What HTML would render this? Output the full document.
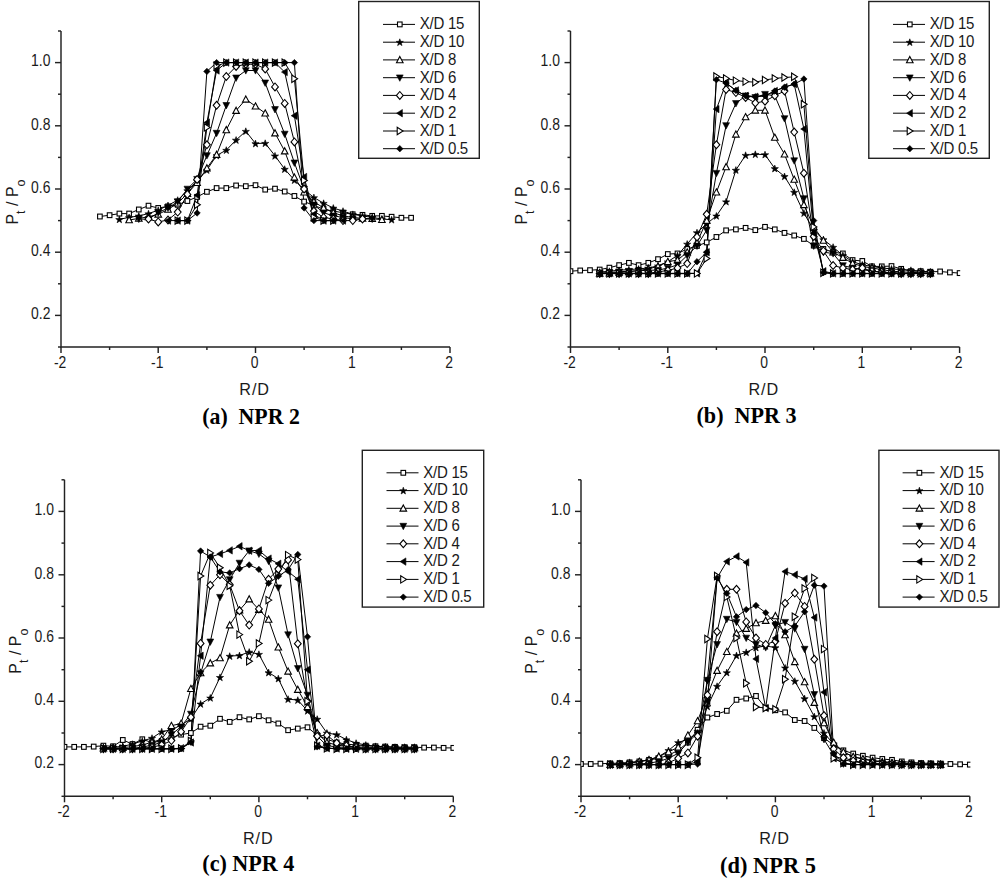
<!DOCTYPE html>
<html><head><meta charset="utf-8"><style>
html,body{margin:0;padding:0;background:#fff;overflow:hidden;}
svg{display:block;}
.ax{stroke:#222;stroke-width:1.45;fill:none;}
.lg{stroke:#222;stroke-width:1.4;fill:none;}
.ln{stroke:#000;stroke-width:1;fill:none;}
.o{fill:#fff;stroke:#000;stroke-width:1.1;}
.f{fill:#000;stroke:#000;stroke-width:0.6;}
.tl{font-family:"Liberation Sans",sans-serif;font-size:15.5px;fill:#1a1a1a;}
.lt{font-family:"Liberation Sans",sans-serif;font-size:16px;fill:#1a1a1a;letter-spacing:-0.3px;}
.sub{font-size:12.5px;}
.tk{font-family:"Liberation Sans",sans-serif;font-size:16px;fill:#1a1a1a;}
.rd{font-family:"Liberation Sans",sans-serif;font-size:16.2px;fill:#1a1a1a;letter-spacing:0.9px;}
.yt{font-family:"Liberation Sans",sans-serif;font-size:16px;fill:#1a1a1a;}
.cap{font-family:"Liberation Serif",serif;font-weight:bold;font-size:23px;fill:#000;white-space:pre;}
</style></head><body>
<svg width="1000" height="878" viewBox="0 0 1000 878">
<path class="ax" d="M61.0,31.0 V347.0 H450.0"/>
<path class="ax" d="M58.0,347.0 H61.0"/>
<path class="ax" d="M55.0,315.4 H61.0"/>
<text class="tk" transform="translate(50.4,319.2) scale(0.87,1)" text-anchor="end">0.2</text>
<path class="ax" d="M58.0,283.8 H61.0"/>
<path class="ax" d="M55.0,252.2 H61.0"/>
<text class="tk" transform="translate(50.4,256.0) scale(0.87,1)" text-anchor="end">0.4</text>
<path class="ax" d="M58.0,220.6 H61.0"/>
<path class="ax" d="M55.0,189.0 H61.0"/>
<text class="tk" transform="translate(50.4,192.8) scale(0.87,1)" text-anchor="end">0.6</text>
<path class="ax" d="M58.0,157.4 H61.0"/>
<path class="ax" d="M55.0,125.8 H61.0"/>
<text class="tk" transform="translate(50.4,129.6) scale(0.87,1)" text-anchor="end">0.8</text>
<path class="ax" d="M58.0,94.2 H61.0"/>
<path class="ax" d="M55.0,62.6 H61.0"/>
<text class="tk" transform="translate(50.4,66.4) scale(0.87,1)" text-anchor="end">1.0</text>
<path class="ax" d="M58.0,31.0 H61.0"/>
<path class="ax" d="M61.0,347.0 V353.0"/>
<text class="tk" transform="translate(60.1,368.2) scale(0.87,1)" text-anchor="middle">-2</text>
<path class="ax" d="M109.6,347.0 V350.0"/>
<path class="ax" d="M158.2,347.0 V353.0"/>
<text class="tk" transform="translate(157.3,368.2) scale(0.87,1)" text-anchor="middle">-1</text>
<path class="ax" d="M206.9,347.0 V350.0"/>
<path class="ax" d="M255.5,347.0 V353.0"/>
<text class="tk" transform="translate(254.6,368.2) scale(0.87,1)" text-anchor="middle">0</text>
<path class="ax" d="M304.1,347.0 V350.0"/>
<path class="ax" d="M352.8,347.0 V353.0"/>
<text class="tk" transform="translate(351.9,368.2) scale(0.87,1)" text-anchor="middle">1</text>
<path class="ax" d="M401.4,347.0 V350.0"/>
<path class="ax" d="M450.0,347.0 V353.0"/>
<text class="tk" transform="translate(449.1,368.2) scale(0.87,1)" text-anchor="middle">2</text>
<text class="rd" x="254.6" y="395.0" text-anchor="middle">R/D</text>
<text class="cap" transform="translate(202.2,424.0) scale(0.95,1)">(a)  NPR 2</text>
<path class="ax" d="M570.5,31.0 V347.0 H959.6"/>
<path class="ax" d="M567.5,347.0 H570.5"/>
<path class="ax" d="M564.5,315.4 H570.5"/>
<text class="tk" transform="translate(559.9,319.2) scale(0.87,1)" text-anchor="end">0.2</text>
<path class="ax" d="M567.5,283.8 H570.5"/>
<path class="ax" d="M564.5,252.2 H570.5"/>
<text class="tk" transform="translate(559.9,256.0) scale(0.87,1)" text-anchor="end">0.4</text>
<path class="ax" d="M567.5,220.6 H570.5"/>
<path class="ax" d="M564.5,189.0 H570.5"/>
<text class="tk" transform="translate(559.9,192.8) scale(0.87,1)" text-anchor="end">0.6</text>
<path class="ax" d="M567.5,157.4 H570.5"/>
<path class="ax" d="M564.5,125.8 H570.5"/>
<text class="tk" transform="translate(559.9,129.6) scale(0.87,1)" text-anchor="end">0.8</text>
<path class="ax" d="M567.5,94.2 H570.5"/>
<path class="ax" d="M564.5,62.6 H570.5"/>
<text class="tk" transform="translate(559.9,66.4) scale(0.87,1)" text-anchor="end">1.0</text>
<path class="ax" d="M567.5,31.0 H570.5"/>
<path class="ax" d="M570.5,347.0 V353.0"/>
<text class="tk" transform="translate(569.6,368.2) scale(0.87,1)" text-anchor="middle">-2</text>
<path class="ax" d="M619.1,347.0 V350.0"/>
<path class="ax" d="M667.8,347.0 V353.0"/>
<text class="tk" transform="translate(666.9,368.2) scale(0.87,1)" text-anchor="middle">-1</text>
<path class="ax" d="M716.4,347.0 V350.0"/>
<path class="ax" d="M765.0,347.0 V353.0"/>
<text class="tk" transform="translate(764.1,368.2) scale(0.87,1)" text-anchor="middle">0</text>
<path class="ax" d="M813.7,347.0 V350.0"/>
<path class="ax" d="M862.3,347.0 V353.0"/>
<text class="tk" transform="translate(861.4,368.2) scale(0.87,1)" text-anchor="middle">1</text>
<path class="ax" d="M910.9,347.0 V350.0"/>
<path class="ax" d="M959.6,347.0 V353.0"/>
<text class="tk" transform="translate(958.7,368.2) scale(0.87,1)" text-anchor="middle">2</text>
<text class="rd" x="763.8" y="395.0" text-anchor="middle">R/D</text>
<text class="cap" transform="translate(696.5,423.0) scale(0.962,1)">(b)  NPR 3</text>
<path class="ax" d="M64.5,479.8 V796.3 H453.3"/>
<path class="ax" d="M61.5,796.3 H64.5"/>
<path class="ax" d="M58.5,764.6 H64.5"/>
<text class="tk" transform="translate(53.9,768.4) scale(0.87,1)" text-anchor="end">0.2</text>
<path class="ax" d="M61.5,733.0 H64.5"/>
<path class="ax" d="M58.5,701.3 H64.5"/>
<text class="tk" transform="translate(53.9,705.1) scale(0.87,1)" text-anchor="end">0.4</text>
<path class="ax" d="M61.5,669.7 H64.5"/>
<path class="ax" d="M58.5,638.0 H64.5"/>
<text class="tk" transform="translate(53.9,641.8) scale(0.87,1)" text-anchor="end">0.6</text>
<path class="ax" d="M61.5,606.4 H64.5"/>
<path class="ax" d="M58.5,574.8 H64.5"/>
<text class="tk" transform="translate(53.9,578.5) scale(0.87,1)" text-anchor="end">0.8</text>
<path class="ax" d="M61.5,543.1 H64.5"/>
<path class="ax" d="M58.5,511.4 H64.5"/>
<text class="tk" transform="translate(53.9,515.2) scale(0.87,1)" text-anchor="end">1.0</text>
<path class="ax" d="M61.5,479.8 H64.5"/>
<path class="ax" d="M64.5,796.3 V802.3"/>
<text class="tk" transform="translate(63.6,816.7) scale(0.87,1)" text-anchor="middle">-2</text>
<path class="ax" d="M113.1,796.3 V799.3"/>
<path class="ax" d="M161.7,796.3 V802.3"/>
<text class="tk" transform="translate(160.8,816.7) scale(0.87,1)" text-anchor="middle">-1</text>
<path class="ax" d="M210.3,796.3 V799.3"/>
<path class="ax" d="M258.9,796.3 V802.3"/>
<text class="tk" transform="translate(258.0,816.7) scale(0.87,1)" text-anchor="middle">0</text>
<path class="ax" d="M307.5,796.3 V799.3"/>
<path class="ax" d="M356.1,796.3 V802.3"/>
<text class="tk" transform="translate(355.2,816.7) scale(0.87,1)" text-anchor="middle">1</text>
<path class="ax" d="M404.7,796.3 V799.3"/>
<path class="ax" d="M453.3,796.3 V802.3"/>
<text class="tk" transform="translate(452.4,816.7) scale(0.87,1)" text-anchor="middle">2</text>
<text class="rd" x="258.3" y="843.6" text-anchor="middle">R/D</text>
<text class="cap" transform="translate(202.3,871.3) scale(0.962,1)">(c) NPR 4</text>
<path class="ax" d="M581.0,479.8 V796.3 H969.8"/>
<path class="ax" d="M578.0,796.3 H581.0"/>
<path class="ax" d="M575.0,764.6 H581.0"/>
<text class="tk" transform="translate(570.4,768.4) scale(0.87,1)" text-anchor="end">0.2</text>
<path class="ax" d="M578.0,733.0 H581.0"/>
<path class="ax" d="M575.0,701.3 H581.0"/>
<text class="tk" transform="translate(570.4,705.1) scale(0.87,1)" text-anchor="end">0.4</text>
<path class="ax" d="M578.0,669.7 H581.0"/>
<path class="ax" d="M575.0,638.0 H581.0"/>
<text class="tk" transform="translate(570.4,641.8) scale(0.87,1)" text-anchor="end">0.6</text>
<path class="ax" d="M578.0,606.4 H581.0"/>
<path class="ax" d="M575.0,574.8 H581.0"/>
<text class="tk" transform="translate(570.4,578.5) scale(0.87,1)" text-anchor="end">0.8</text>
<path class="ax" d="M578.0,543.1 H581.0"/>
<path class="ax" d="M575.0,511.4 H581.0"/>
<text class="tk" transform="translate(570.4,515.2) scale(0.87,1)" text-anchor="end">1.0</text>
<path class="ax" d="M578.0,479.8 H581.0"/>
<path class="ax" d="M581.0,796.3 V802.3"/>
<text class="tk" transform="translate(580.1,816.7) scale(0.87,1)" text-anchor="middle">-2</text>
<path class="ax" d="M629.6,796.3 V799.3"/>
<path class="ax" d="M678.2,796.3 V802.3"/>
<text class="tk" transform="translate(677.3,816.7) scale(0.87,1)" text-anchor="middle">-1</text>
<path class="ax" d="M726.8,796.3 V799.3"/>
<path class="ax" d="M775.4,796.3 V802.3"/>
<text class="tk" transform="translate(774.5,816.7) scale(0.87,1)" text-anchor="middle">0</text>
<path class="ax" d="M824.0,796.3 V799.3"/>
<path class="ax" d="M872.6,796.3 V802.3"/>
<text class="tk" transform="translate(871.7,816.7) scale(0.87,1)" text-anchor="middle">1</text>
<path class="ax" d="M921.2,796.3 V799.3"/>
<path class="ax" d="M969.8,796.3 V802.3"/>
<text class="tk" transform="translate(968.9,816.7) scale(0.87,1)" text-anchor="middle">2</text>
<text class="rd" x="774.5" y="843.6" text-anchor="middle">R/D</text>
<text class="cap" transform="translate(720.0,872.8) scale(0.976,1)">(d) NPR 5</text>
<text class="yt" transform="translate(17.6,224.6) rotate(-90)">P<tspan class="sub" dy="7">t</tspan><tspan dy="-7"> / P</tspan><tspan class="sub" dy="7">o</tspan></text>
<text class="yt" transform="translate(527.2,224.6) rotate(-90)">P<tspan class="sub" dy="7">t</tspan><tspan dy="-7"> / P</tspan><tspan class="sub" dy="7">o</tspan></text>
<text class="yt" transform="translate(21.0,673.7) rotate(-90)">P<tspan class="sub" dy="7">t</tspan><tspan dy="-7"> / P</tspan><tspan class="sub" dy="7">o</tspan></text>
<text class="yt" transform="translate(537.4,673.8) rotate(-90)">P<tspan class="sub" dy="7">t</tspan><tspan dy="-7"> / P</tspan><tspan class="sub" dy="7">o</tspan></text>
<rect class="lg" x="358.7" y="1.5" width="120.6" height="156.8"/>
<path class="ln" d="M383.0,24.4 H415.0"/>
<rect x="397.5" y="22.0" width="4.6" height="4.8" class="o"/>
<text class="lt" transform="translate(419.8,29.2) scale(0.94,1)">X/D 15</text>
<path class="ln" d="M383.0,42.2 H415.0"/>
<polygon points="399.8,38.8 400.7,41.3 403.4,41.4 401.2,43.0 402.0,45.6 399.8,44.1 397.6,45.6 398.4,43.0 396.2,41.4 398.9,41.3" class="f"/>
<text class="lt" transform="translate(419.8,47.0) scale(0.94,1)">X/D 10</text>
<path class="ln" d="M383.0,59.9 H415.0"/>
<polygon points="399.8,56.5 403.1,62.7 396.5,62.7" class="o"/>
<text class="lt" transform="translate(419.8,64.7) scale(0.94,1)">X/D 8</text>
<path class="ln" d="M383.0,77.7 H415.0"/>
<polygon points="396.4,74.9 403.2,74.9 399.8,81.3" class="f"/>
<text class="lt" transform="translate(419.8,82.5) scale(0.94,1)">X/D 6</text>
<path class="ln" d="M383.0,95.4 H415.0"/>
<polygon points="399.8,91.5 403.2,95.4 399.8,99.3 396.4,95.4" class="o"/>
<text class="lt" transform="translate(419.8,100.2) scale(0.94,1)">X/D 4</text>
<path class="ln" d="M383.0,113.2 H415.0"/>
<polygon points="396.6,113.2 402.4,109.5 402.4,116.9" class="f"/>
<text class="lt" transform="translate(419.8,118.0) scale(0.94,1)">X/D 2</text>
<path class="ln" d="M383.0,131.0 H415.0"/>
<polygon points="403.0,131.0 397.2,127.3 397.2,134.7" class="o"/>
<text class="lt" transform="translate(419.8,135.8) scale(0.94,1)">X/D 1</text>
<path class="ln" d="M383.0,148.7 H415.0"/>
<polygon points="399.8,145.5 403.0,148.7 399.8,151.9 396.6,148.7" class="f"/>
<text class="lt" transform="translate(419.8,153.5) scale(0.94,1)">X/D 0.5</text>
<rect class="lg" x="868.8" y="1.5" width="120.5" height="156.8"/>
<path class="ln" d="M893.0,24.4 H925.0"/>
<rect x="907.5" y="22.0" width="4.6" height="4.8" class="o"/>
<text class="lt" transform="translate(929.8,29.2) scale(0.94,1)">X/D 15</text>
<path class="ln" d="M893.0,42.2 H925.0"/>
<polygon points="909.8,38.8 910.7,41.3 913.4,41.4 911.2,43.0 912.0,45.6 909.8,44.1 907.6,45.6 908.4,43.0 906.2,41.4 908.9,41.3" class="f"/>
<text class="lt" transform="translate(929.8,47.0) scale(0.94,1)">X/D 10</text>
<path class="ln" d="M893.0,59.9 H925.0"/>
<polygon points="909.8,56.5 913.1,62.7 906.5,62.7" class="o"/>
<text class="lt" transform="translate(929.8,64.7) scale(0.94,1)">X/D 8</text>
<path class="ln" d="M893.0,77.7 H925.0"/>
<polygon points="906.4,74.9 913.2,74.9 909.8,81.3" class="f"/>
<text class="lt" transform="translate(929.8,82.5) scale(0.94,1)">X/D 6</text>
<path class="ln" d="M893.0,95.4 H925.0"/>
<polygon points="909.8,91.5 913.2,95.4 909.8,99.3 906.4,95.4" class="o"/>
<text class="lt" transform="translate(929.8,100.2) scale(0.94,1)">X/D 4</text>
<path class="ln" d="M893.0,113.2 H925.0"/>
<polygon points="906.6,113.2 912.4,109.5 912.4,116.9" class="f"/>
<text class="lt" transform="translate(929.8,118.0) scale(0.94,1)">X/D 2</text>
<path class="ln" d="M893.0,131.0 H925.0"/>
<polygon points="913.0,131.0 907.2,127.3 907.2,134.7" class="o"/>
<text class="lt" transform="translate(929.8,135.8) scale(0.94,1)">X/D 1</text>
<path class="ln" d="M893.0,148.7 H925.0"/>
<polygon points="909.8,145.5 913.0,148.7 909.8,151.9 906.6,148.7" class="f"/>
<text class="lt" transform="translate(929.8,153.5) scale(0.94,1)">X/D 0.5</text>
<rect class="lg" x="362.3" y="450.3" width="121.4" height="156.8"/>
<path class="ln" d="M386.5,472.8 H418.5"/>
<rect x="401.0" y="470.4" width="4.6" height="4.8" class="o"/>
<text class="lt" transform="translate(423.3,477.6) scale(0.94,1)">X/D 15</text>
<path class="ln" d="M386.5,490.6 H418.5"/>
<polygon points="403.3,487.2 404.2,489.7 406.9,489.8 404.7,491.4 405.5,494.0 403.3,492.5 401.1,494.0 401.9,491.4 399.7,489.8 402.4,489.7" class="f"/>
<text class="lt" transform="translate(423.3,495.4) scale(0.94,1)">X/D 10</text>
<path class="ln" d="M386.5,508.3 H418.5"/>
<polygon points="403.3,504.9 406.6,511.1 400.0,511.1" class="o"/>
<text class="lt" transform="translate(423.3,513.1) scale(0.94,1)">X/D 8</text>
<path class="ln" d="M386.5,526.1 H418.5"/>
<polygon points="399.9,523.3 406.7,523.3 403.3,529.7" class="f"/>
<text class="lt" transform="translate(423.3,530.9) scale(0.94,1)">X/D 6</text>
<path class="ln" d="M386.5,543.8 H418.5"/>
<polygon points="403.3,539.9 406.7,543.8 403.3,547.7 399.9,543.8" class="o"/>
<text class="lt" transform="translate(423.3,548.6) scale(0.94,1)">X/D 4</text>
<path class="ln" d="M386.5,561.6 H418.5"/>
<polygon points="400.1,561.6 405.9,557.9 405.9,565.3" class="f"/>
<text class="lt" transform="translate(423.3,566.4) scale(0.94,1)">X/D 2</text>
<path class="ln" d="M386.5,579.4 H418.5"/>
<polygon points="406.5,579.4 400.7,575.7 400.7,583.1" class="o"/>
<text class="lt" transform="translate(423.3,584.2) scale(0.94,1)">X/D 1</text>
<path class="ln" d="M386.5,597.1 H418.5"/>
<polygon points="403.3,593.9 406.5,597.1 403.3,600.3 400.1,597.1" class="f"/>
<text class="lt" transform="translate(423.3,601.9) scale(0.94,1)">X/D 0.5</text>
<rect class="lg" x="878.9" y="450.3" width="120.1" height="156.8"/>
<path class="ln" d="M902.6,472.8 H934.6"/>
<rect x="917.1" y="470.4" width="4.6" height="4.8" class="o"/>
<text class="lt" transform="translate(939.4,477.6) scale(0.94,1)">X/D 15</text>
<path class="ln" d="M902.6,490.6 H934.6"/>
<polygon points="919.4,487.2 920.3,489.7 923.0,489.8 920.8,491.4 921.6,494.0 919.4,492.5 917.2,494.0 918.0,491.4 915.8,489.8 918.5,489.7" class="f"/>
<text class="lt" transform="translate(939.4,495.4) scale(0.94,1)">X/D 10</text>
<path class="ln" d="M902.6,508.3 H934.6"/>
<polygon points="919.4,504.9 922.7,511.1 916.1,511.1" class="o"/>
<text class="lt" transform="translate(939.4,513.1) scale(0.94,1)">X/D 8</text>
<path class="ln" d="M902.6,526.1 H934.6"/>
<polygon points="916.0,523.3 922.8,523.3 919.4,529.7" class="f"/>
<text class="lt" transform="translate(939.4,530.9) scale(0.94,1)">X/D 6</text>
<path class="ln" d="M902.6,543.8 H934.6"/>
<polygon points="919.4,539.9 922.8,543.8 919.4,547.7 916.0,543.8" class="o"/>
<text class="lt" transform="translate(939.4,548.6) scale(0.94,1)">X/D 4</text>
<path class="ln" d="M902.6,561.6 H934.6"/>
<polygon points="916.2,561.6 922.0,557.9 922.0,565.3" class="f"/>
<text class="lt" transform="translate(939.4,566.4) scale(0.94,1)">X/D 2</text>
<path class="ln" d="M902.6,579.4 H934.6"/>
<polygon points="922.6,579.4 916.8,575.7 916.8,583.1" class="o"/>
<text class="lt" transform="translate(939.4,584.2) scale(0.94,1)">X/D 1</text>
<path class="ln" d="M902.6,597.1 H934.6"/>
<polygon points="919.4,593.9 922.6,597.1 919.4,600.3 916.2,597.1" class="f"/>
<text class="lt" transform="translate(939.4,601.9) scale(0.94,1)">X/D 0.5</text>
<clipPath id="cpa"><rect x="61.3" y="21.0" width="389.3" height="326.0"/></clipPath>
<g clip-path="url(#cpa)">
<polyline class="ln" points="99.9,216.5 109.6,215.2 119.4,213.6 129.1,213.6 138.8,209.5 148.5,205.7 158.2,208.0 168.0,206.4 177.7,204.8 187.4,201.0 197.1,196.9 206.9,191.8 216.6,188.1 226.3,188.1 236.1,185.5 245.8,186.2 255.5,185.2 265.2,189.6 275.0,188.7 284.7,191.5 294.4,196.0 304.1,201.6 313.9,205.4 323.6,209.2 333.3,211.1 343.0,212.7 352.8,214.3 362.5,214.9 372.2,215.9 381.9,215.9 391.6,216.8 401.4,217.8 411.1,217.8"/>
<polyline class="ln" points="119.4,219.3 129.1,217.4 138.8,215.9 148.5,213.6 158.2,210.2 168.0,205.4 177.7,200.1 187.4,190.6 197.1,181.1 206.9,170.0 216.6,155.5 226.3,150.1 236.1,140.0 245.8,131.2 255.5,143.5 265.2,143.2 275.0,155.8 284.7,169.1 294.4,180.2 304.1,189.6 313.9,197.5 323.6,203.2 333.3,208.0 343.0,211.1 352.8,214.3 362.5,215.9 372.2,217.4 381.9,219.0 391.6,219.7"/>
<polyline class="ln" points="129.1,220.0 138.8,218.4 148.5,216.8 158.2,214.3 168.0,209.5 177.7,203.2 187.4,193.7 197.1,182.7 206.9,168.1 216.6,154.6 226.3,129.9 236.1,110.6 245.8,99.3 255.5,106.2 265.2,113.2 275.0,133.1 284.7,151.1 294.4,177.3 304.1,192.2 313.9,201.6 323.6,208.0 333.3,212.7 343.0,215.9 352.8,217.4 362.5,218.4 372.2,218.7 381.9,219.7"/>
<polyline class="ln" points="138.8,219.0 148.5,219.3 158.2,212.7 168.0,208.0 177.7,201.6 187.4,189.0 197.1,179.2 206.9,155.5 216.6,133.1 226.3,105.3 236.1,77.8 245.8,70.5 255.5,70.5 265.2,82.8 275.0,109.4 284.7,134.0 294.4,162.8 304.1,189.0 313.9,204.8 323.6,212.7 333.3,215.9 343.0,217.4 352.8,219.0 362.5,219.0 372.2,219.0"/>
<polyline class="ln" points="148.5,219.0 158.2,221.9 168.0,220.0 177.7,212.1 187.4,194.4 197.1,179.5 206.9,144.8 216.6,105.3 226.3,76.5 236.1,66.4 245.8,64.2 255.5,64.2 265.2,68.9 275.0,86.9 284.7,103.4 294.4,141.9 304.1,189.0 313.9,211.1 323.6,217.4 333.3,219.0 343.0,220.6 352.8,220.6 362.5,219.0"/>
<polyline class="ln" points="168.0,220.6 177.7,220.6 187.4,220.6 197.1,195.3 206.9,122.6 216.6,70.5 226.3,62.6 236.1,62.6 245.8,62.6 255.5,62.6 265.2,62.6 275.0,62.6 284.7,72.1 294.4,115.7 304.1,177.0 313.9,214.3 323.6,220.6 333.3,220.6 343.0,220.6"/>
<polyline class="ln" points="177.7,220.6 187.4,220.6 197.1,204.8 206.9,127.4 216.6,65.8 226.3,62.6 236.1,62.6 245.8,62.6 255.5,62.6 265.2,62.6 275.0,62.6 284.7,62.6 294.4,78.7 304.1,180.5 313.9,217.4 323.6,220.6 333.3,220.6"/>
<polyline class="ln" points="177.7,220.6 187.4,220.6 197.1,213.0 206.9,71.4 216.6,62.6 226.3,62.6 236.1,62.6 245.8,62.6 255.5,62.6 265.2,62.6 275.0,62.6 284.7,62.6 294.4,62.6 304.1,208.0 313.9,220.6 323.6,220.6 333.3,220.6"/>
<rect x="97.6" y="214.1" width="4.6" height="4.8" class="o"/>
<rect x="107.3" y="212.8" width="4.6" height="4.8" class="o"/>
<rect x="117.1" y="211.2" width="4.6" height="4.8" class="o"/>
<rect x="126.8" y="211.2" width="4.6" height="4.8" class="o"/>
<rect x="136.5" y="207.1" width="4.6" height="4.8" class="o"/>
<rect x="146.2" y="203.3" width="4.6" height="4.8" class="o"/>
<rect x="155.9" y="205.6" width="4.6" height="4.8" class="o"/>
<rect x="165.7" y="204.0" width="4.6" height="4.8" class="o"/>
<rect x="175.4" y="202.4" width="4.6" height="4.8" class="o"/>
<rect x="185.1" y="198.6" width="4.6" height="4.8" class="o"/>
<rect x="194.8" y="194.5" width="4.6" height="4.8" class="o"/>
<rect x="204.6" y="189.4" width="4.6" height="4.8" class="o"/>
<rect x="214.3" y="185.7" width="4.6" height="4.8" class="o"/>
<rect x="224.0" y="185.7" width="4.6" height="4.8" class="o"/>
<rect x="233.8" y="183.1" width="4.6" height="4.8" class="o"/>
<rect x="243.5" y="183.8" width="4.6" height="4.8" class="o"/>
<rect x="253.2" y="182.8" width="4.6" height="4.8" class="o"/>
<rect x="262.9" y="187.2" width="4.6" height="4.8" class="o"/>
<rect x="272.7" y="186.3" width="4.6" height="4.8" class="o"/>
<rect x="282.4" y="189.1" width="4.6" height="4.8" class="o"/>
<rect x="292.1" y="193.6" width="4.6" height="4.8" class="o"/>
<rect x="301.8" y="199.2" width="4.6" height="4.8" class="o"/>
<rect x="311.6" y="203.0" width="4.6" height="4.8" class="o"/>
<rect x="321.3" y="206.8" width="4.6" height="4.8" class="o"/>
<rect x="331.0" y="208.7" width="4.6" height="4.8" class="o"/>
<rect x="340.7" y="210.3" width="4.6" height="4.8" class="o"/>
<rect x="350.4" y="211.9" width="4.6" height="4.8" class="o"/>
<rect x="360.2" y="212.5" width="4.6" height="4.8" class="o"/>
<rect x="369.9" y="213.5" width="4.6" height="4.8" class="o"/>
<rect x="379.6" y="213.5" width="4.6" height="4.8" class="o"/>
<rect x="389.3" y="214.4" width="4.6" height="4.8" class="o"/>
<rect x="399.1" y="215.4" width="4.6" height="4.8" class="o"/>
<rect x="408.8" y="215.4" width="4.6" height="4.8" class="o"/>
<polygon points="119.4,215.9 120.2,218.5 123.0,218.6 120.8,220.2 121.6,222.8 119.4,221.2 117.1,222.8 117.9,220.2 115.7,218.6 118.5,218.5" class="f"/>
<polygon points="129.1,214.0 130.0,216.6 132.7,216.7 130.5,218.3 131.3,220.9 129.1,219.3 126.8,220.9 127.6,218.3 125.5,216.7 128.2,216.6" class="f"/>
<polygon points="138.8,212.5 139.7,215.0 142.4,215.1 140.2,216.7 141.0,219.3 138.8,217.8 136.6,219.3 137.4,216.7 135.2,215.1 137.9,215.0" class="f"/>
<polygon points="148.5,210.2 149.4,212.8 152.1,212.9 150.0,214.5 150.8,217.1 148.5,215.5 146.3,217.1 147.1,214.5 144.9,212.9 147.6,212.8" class="f"/>
<polygon points="158.2,206.8 159.1,209.4 161.9,209.4 159.7,211.0 160.5,213.6 158.2,212.1 156.0,213.6 156.8,211.0 154.6,209.4 157.4,209.4" class="f"/>
<polygon points="168.0,202.0 168.9,204.6 171.6,204.7 169.4,206.3 170.2,208.9 168.0,207.3 165.7,208.9 166.5,206.3 164.4,204.7 167.1,204.6" class="f"/>
<polygon points="177.7,196.7 178.6,199.2 181.3,199.3 179.1,200.9 179.9,203.5 177.7,202.0 175.5,203.5 176.3,200.9 174.1,199.3 176.8,199.2" class="f"/>
<polygon points="187.4,187.2 188.3,189.8 191.0,189.8 188.9,191.4 189.7,194.1 187.4,192.5 185.2,194.1 186.0,191.4 183.8,189.8 186.5,189.8" class="f"/>
<polygon points="197.1,177.7 198.0,180.3 200.8,180.3 198.6,182.0 199.4,184.6 197.1,183.0 194.9,184.6 195.7,182.0 193.5,180.3 196.3,180.3" class="f"/>
<polygon points="206.9,166.6 207.8,169.2 210.5,169.3 208.3,170.9 209.1,173.5 206.9,171.9 204.6,173.5 205.4,170.9 203.3,169.3 206.0,169.2" class="f"/>
<polygon points="216.6,152.1 217.5,154.7 220.2,154.7 218.0,156.4 218.8,159.0 216.6,157.4 214.4,159.0 215.2,156.4 213.0,154.7 215.7,154.7" class="f"/>
<polygon points="226.3,146.7 227.2,149.3 229.9,149.4 227.8,151.0 228.6,153.6 226.3,152.0 224.1,153.6 224.9,151.0 222.7,149.4 225.4,149.3" class="f"/>
<polygon points="236.1,136.6 236.9,139.2 239.7,139.2 237.5,140.9 238.3,143.5 236.1,141.9 233.8,143.5 234.6,140.9 232.4,139.2 235.2,139.2" class="f"/>
<polygon points="245.8,127.8 246.7,130.4 249.4,130.4 247.2,132.0 248.0,134.6 245.8,133.1 243.5,134.6 244.3,132.0 242.2,130.4 244.9,130.4" class="f"/>
<polygon points="255.5,140.1 256.4,142.7 259.1,142.7 256.9,144.4 257.7,147.0 255.5,145.4 253.3,147.0 254.1,144.4 251.9,142.7 254.6,142.7" class="f"/>
<polygon points="265.2,139.8 266.1,142.4 268.8,142.4 266.7,144.0 267.5,146.7 265.2,145.1 263.0,146.7 263.8,144.0 261.6,142.4 264.3,142.4" class="f"/>
<polygon points="275.0,152.4 275.8,155.0 278.6,155.0 276.4,156.7 277.2,159.3 275.0,157.7 272.7,159.3 273.5,156.7 271.3,155.0 274.1,155.0" class="f"/>
<polygon points="284.7,165.7 285.6,168.3 288.3,168.3 286.1,170.0 286.9,172.6 284.7,171.0 282.4,172.6 283.2,170.0 281.1,168.3 283.8,168.3" class="f"/>
<polygon points="294.4,176.8 295.3,179.3 298.0,179.4 295.8,181.0 296.6,183.6 294.4,182.1 292.2,183.6 293.0,181.0 290.8,179.4 293.5,179.3" class="f"/>
<polygon points="304.1,186.2 305.0,188.8 307.7,188.9 305.6,190.5 306.4,193.1 304.1,191.5 301.9,193.1 302.7,190.5 300.5,188.9 303.2,188.8" class="f"/>
<polygon points="313.9,194.1 314.7,196.7 317.5,196.8 315.3,198.4 316.1,201.0 313.9,199.4 311.6,201.0 312.4,198.4 310.2,196.8 313.0,196.7" class="f"/>
<polygon points="323.6,199.8 324.5,202.4 327.2,202.4 325.0,204.1 325.8,206.7 323.6,205.1 321.3,206.7 322.1,204.1 320.0,202.4 322.7,202.4" class="f"/>
<polygon points="333.3,204.6 334.2,207.1 336.9,207.2 334.7,208.8 335.5,211.4 333.3,209.9 331.1,211.4 331.9,208.8 329.7,207.2 332.4,207.1" class="f"/>
<polygon points="343.0,207.7 343.9,210.3 346.6,210.3 344.5,212.0 345.3,214.6 343.0,213.0 340.8,214.6 341.6,212.0 339.4,210.3 342.1,210.3" class="f"/>
<polygon points="352.8,210.9 353.6,213.5 356.4,213.5 354.2,215.1 355.0,217.8 352.8,216.2 350.5,217.8 351.3,215.1 349.1,213.5 351.9,213.5" class="f"/>
<polygon points="362.5,212.5 363.4,215.0 366.1,215.1 363.9,216.7 364.7,219.3 362.5,217.8 360.2,219.3 361.0,216.7 358.9,215.1 361.6,215.0" class="f"/>
<polygon points="372.2,214.0 373.1,216.6 375.8,216.7 373.6,218.3 374.4,220.9 372.2,219.3 370.0,220.9 370.8,218.3 368.6,216.7 371.3,216.6" class="f"/>
<polygon points="381.9,215.6 382.8,218.2 385.5,218.2 383.4,219.9 384.2,222.5 381.9,220.9 379.7,222.5 380.5,219.9 378.3,218.2 381.0,218.2" class="f"/>
<polygon points="391.6,216.3 392.5,218.8 395.3,218.9 393.1,220.5 393.9,223.1 391.6,221.6 389.4,223.1 390.2,220.5 388.0,218.9 390.8,218.8" class="f"/>
<polygon points="129.1,216.6 132.4,222.8 125.8,222.8" class="o"/>
<polygon points="138.8,215.0 142.1,221.2 135.5,221.2" class="o"/>
<polygon points="148.5,213.4 151.8,219.6 145.2,219.6" class="o"/>
<polygon points="158.2,210.9 161.6,217.1 154.9,217.1" class="o"/>
<polygon points="168.0,206.1 171.3,212.3 164.7,212.3" class="o"/>
<polygon points="177.7,199.8 181.0,206.0 174.4,206.0" class="o"/>
<polygon points="187.4,190.3 190.7,196.5 184.1,196.5" class="o"/>
<polygon points="197.1,179.3 200.4,185.5 193.8,185.5" class="o"/>
<polygon points="206.9,164.7 210.2,170.9 203.6,170.9" class="o"/>
<polygon points="216.6,151.2 219.9,157.4 213.3,157.4" class="o"/>
<polygon points="226.3,126.5 229.6,132.7 223.0,132.7" class="o"/>
<polygon points="236.1,107.2 239.4,113.4 232.8,113.4" class="o"/>
<polygon points="245.8,95.9 249.1,102.1 242.5,102.1" class="o"/>
<polygon points="255.5,102.8 258.8,109.0 252.2,109.0" class="o"/>
<polygon points="265.2,109.8 268.5,116.0 261.9,116.0" class="o"/>
<polygon points="275.0,129.7 278.3,135.9 271.7,135.9" class="o"/>
<polygon points="284.7,147.7 288.0,153.9 281.4,153.9" class="o"/>
<polygon points="294.4,173.9 297.7,180.1 291.1,180.1" class="o"/>
<polygon points="304.1,188.8 307.4,195.0 300.8,195.0" class="o"/>
<polygon points="313.9,198.2 317.2,204.4 310.6,204.4" class="o"/>
<polygon points="323.6,204.6 326.9,210.8 320.3,210.8" class="o"/>
<polygon points="333.3,209.3 336.6,215.5 330.0,215.5" class="o"/>
<polygon points="343.0,212.5 346.3,218.7 339.7,218.7" class="o"/>
<polygon points="352.8,214.0 356.1,220.2 349.4,220.2" class="o"/>
<polygon points="362.5,215.0 365.8,221.2 359.2,221.2" class="o"/>
<polygon points="372.2,215.3 375.5,221.5 368.9,221.5" class="o"/>
<polygon points="381.9,216.3 385.2,222.5 378.6,222.5" class="o"/>
<polygon points="135.4,216.2 142.2,216.2 138.8,222.6" class="f"/>
<polygon points="145.1,216.5 151.9,216.5 148.5,222.9" class="f"/>
<polygon points="154.8,209.9 161.7,209.9 158.2,216.3" class="f"/>
<polygon points="164.6,205.2 171.4,205.2 168.0,211.6" class="f"/>
<polygon points="174.3,198.8 181.1,198.8 177.7,205.2" class="f"/>
<polygon points="184.0,186.2 190.8,186.2 187.4,192.6" class="f"/>
<polygon points="193.7,176.4 200.5,176.4 197.1,182.8" class="f"/>
<polygon points="203.5,152.7 210.3,152.7 206.9,159.1" class="f"/>
<polygon points="213.2,130.3 220.0,130.3 216.6,136.7" class="f"/>
<polygon points="222.9,102.5 229.7,102.5 226.3,108.9" class="f"/>
<polygon points="232.7,75.0 239.5,75.0 236.1,81.4" class="f"/>
<polygon points="242.4,67.7 249.2,67.7 245.8,74.1" class="f"/>
<polygon points="252.1,67.7 258.9,67.7 255.5,74.1" class="f"/>
<polygon points="261.8,80.0 268.6,80.0 265.2,86.4" class="f"/>
<polygon points="271.6,106.6 278.4,106.6 275.0,113.0" class="f"/>
<polygon points="281.3,131.2 288.1,131.2 284.7,137.6" class="f"/>
<polygon points="291.0,160.0 297.8,160.0 294.4,166.4" class="f"/>
<polygon points="300.7,186.2 307.5,186.2 304.1,192.6" class="f"/>
<polygon points="310.5,202.0 317.2,202.0 313.9,208.4" class="f"/>
<polygon points="320.2,209.9 327.0,209.9 323.6,216.3" class="f"/>
<polygon points="329.9,213.1 336.7,213.1 333.3,219.5" class="f"/>
<polygon points="339.6,214.6 346.4,214.6 343.0,221.0" class="f"/>
<polygon points="349.4,216.2 356.1,216.2 352.8,222.6" class="f"/>
<polygon points="359.1,216.2 365.9,216.2 362.5,222.6" class="f"/>
<polygon points="368.8,216.2 375.6,216.2 372.2,222.6" class="f"/>
<polygon points="148.5,215.1 151.9,219.0 148.5,222.9 145.1,219.0" class="o"/>
<polygon points="158.2,218.0 161.7,221.9 158.2,225.8 154.8,221.9" class="o"/>
<polygon points="168.0,216.1 171.4,220.0 168.0,223.9 164.6,220.0" class="o"/>
<polygon points="177.7,208.2 181.1,212.1 177.7,216.0 174.3,212.1" class="o"/>
<polygon points="187.4,190.5 190.8,194.4 187.4,198.3 184.0,194.4" class="o"/>
<polygon points="197.1,175.6 200.5,179.5 197.1,183.4 193.7,179.5" class="o"/>
<polygon points="206.9,140.9 210.3,144.8 206.9,148.7 203.5,144.8" class="o"/>
<polygon points="216.6,101.4 220.0,105.3 216.6,109.2 213.2,105.3" class="o"/>
<polygon points="226.3,72.6 229.7,76.5 226.3,80.4 222.9,76.5" class="o"/>
<polygon points="236.1,62.5 239.5,66.4 236.1,70.3 232.7,66.4" class="o"/>
<polygon points="245.8,60.3 249.2,64.2 245.8,68.1 242.4,64.2" class="o"/>
<polygon points="255.5,60.3 258.9,64.2 255.5,68.1 252.1,64.2" class="o"/>
<polygon points="265.2,65.0 268.6,68.9 265.2,72.8 261.8,68.9" class="o"/>
<polygon points="275.0,83.0 278.4,86.9 275.0,90.8 271.6,86.9" class="o"/>
<polygon points="284.7,99.5 288.1,103.4 284.7,107.3 281.3,103.4" class="o"/>
<polygon points="294.4,138.0 297.8,141.9 294.4,145.8 291.0,141.9" class="o"/>
<polygon points="304.1,185.1 307.5,189.0 304.1,192.9 300.7,189.0" class="o"/>
<polygon points="313.9,207.2 317.2,211.1 313.9,215.0 310.5,211.1" class="o"/>
<polygon points="323.6,213.5 327.0,217.4 323.6,221.3 320.2,217.4" class="o"/>
<polygon points="333.3,215.1 336.7,219.0 333.3,222.9 329.9,219.0" class="o"/>
<polygon points="343.0,216.7 346.4,220.6 343.0,224.5 339.6,220.6" class="o"/>
<polygon points="352.8,216.7 356.1,220.6 352.8,224.5 349.4,220.6" class="o"/>
<polygon points="362.5,215.1 365.9,219.0 362.5,222.9 359.1,219.0" class="o"/>
<polygon points="164.8,220.6 170.6,216.9 170.6,224.3" class="f"/>
<polygon points="174.5,220.6 180.3,216.9 180.3,224.3" class="f"/>
<polygon points="184.2,220.6 190.0,216.9 190.0,224.3" class="f"/>
<polygon points="193.9,195.3 199.7,191.6 199.7,199.0" class="f"/>
<polygon points="203.7,122.6 209.5,118.9 209.5,126.3" class="f"/>
<polygon points="213.4,70.5 219.2,66.8 219.2,74.2" class="f"/>
<polygon points="223.1,62.6 228.9,58.9 228.9,66.3" class="f"/>
<polygon points="232.9,62.6 238.7,58.9 238.7,66.3" class="f"/>
<polygon points="242.6,62.6 248.4,58.9 248.4,66.3" class="f"/>
<polygon points="252.3,62.6 258.1,58.9 258.1,66.3" class="f"/>
<polygon points="262.0,62.6 267.8,58.9 267.8,66.3" class="f"/>
<polygon points="271.8,62.6 277.6,58.9 277.6,66.3" class="f"/>
<polygon points="281.5,72.1 287.3,68.4 287.3,75.8" class="f"/>
<polygon points="291.2,115.7 297.0,112.0 297.0,119.4" class="f"/>
<polygon points="300.9,177.0 306.7,173.3 306.7,180.7" class="f"/>
<polygon points="310.7,214.3 316.5,210.6 316.5,218.0" class="f"/>
<polygon points="320.4,220.6 326.2,216.9 326.2,224.3" class="f"/>
<polygon points="330.1,220.6 335.9,216.9 335.9,224.3" class="f"/>
<polygon points="339.8,220.6 345.6,216.9 345.6,224.3" class="f"/>
<polygon points="180.9,220.6 175.1,216.9 175.1,224.3" class="o"/>
<polygon points="190.6,220.6 184.8,216.9 184.8,224.3" class="o"/>
<polygon points="200.3,204.8 194.5,201.1 194.5,208.5" class="o"/>
<polygon points="210.1,127.4 204.3,123.7 204.3,131.1" class="o"/>
<polygon points="219.8,65.8 214.0,62.1 214.0,69.5" class="o"/>
<polygon points="229.5,62.6 223.7,58.9 223.7,66.3" class="o"/>
<polygon points="239.2,62.6 233.5,58.9 233.5,66.3" class="o"/>
<polygon points="249.0,62.6 243.2,58.9 243.2,66.3" class="o"/>
<polygon points="258.7,62.6 252.9,58.9 252.9,66.3" class="o"/>
<polygon points="268.4,62.6 262.6,58.9 262.6,66.3" class="o"/>
<polygon points="278.2,62.6 272.4,58.9 272.4,66.3" class="o"/>
<polygon points="287.9,62.6 282.1,58.9 282.1,66.3" class="o"/>
<polygon points="297.6,78.7 291.8,75.0 291.8,82.4" class="o"/>
<polygon points="307.3,180.5 301.5,176.8 301.5,184.2" class="o"/>
<polygon points="317.1,217.4 311.2,213.7 311.2,221.1" class="o"/>
<polygon points="326.8,220.6 321.0,216.9 321.0,224.3" class="o"/>
<polygon points="336.5,220.6 330.7,216.9 330.7,224.3" class="o"/>
<polygon points="177.7,217.4 180.9,220.6 177.7,223.8 174.5,220.6" class="f"/>
<polygon points="187.4,217.4 190.6,220.6 187.4,223.8 184.2,220.6" class="f"/>
<polygon points="197.1,209.8 200.3,213.0 197.1,216.2 193.9,213.0" class="f"/>
<polygon points="206.9,68.2 210.1,71.4 206.9,74.6 203.7,71.4" class="f"/>
<polygon points="216.6,59.4 219.8,62.6 216.6,65.8 213.4,62.6" class="f"/>
<polygon points="226.3,59.4 229.5,62.6 226.3,65.8 223.1,62.6" class="f"/>
<polygon points="236.1,59.4 239.2,62.6 236.1,65.8 232.9,62.6" class="f"/>
<polygon points="245.8,59.4 249.0,62.6 245.8,65.8 242.6,62.6" class="f"/>
<polygon points="255.5,59.4 258.7,62.6 255.5,65.8 252.3,62.6" class="f"/>
<polygon points="265.2,59.4 268.4,62.6 265.2,65.8 262.0,62.6" class="f"/>
<polygon points="275.0,59.4 278.2,62.6 275.0,65.8 271.8,62.6" class="f"/>
<polygon points="284.7,59.4 287.9,62.6 284.7,65.8 281.5,62.6" class="f"/>
<polygon points="294.4,59.4 297.6,62.6 294.4,65.8 291.2,62.6" class="f"/>
<polygon points="304.1,204.8 307.3,208.0 304.1,211.2 300.9,208.0" class="f"/>
<polygon points="313.9,217.4 317.1,220.6 313.9,223.8 310.7,220.6" class="f"/>
<polygon points="323.6,217.4 326.8,220.6 323.6,223.8 320.4,220.6" class="f"/>
<polygon points="333.3,217.4 336.5,220.6 333.3,223.8 330.1,220.6" class="f"/>
</g>
<clipPath id="cpb"><rect x="570.8" y="21.0" width="389.4" height="326.0"/></clipPath>
<g clip-path="url(#cpb)">
<polyline class="ln" points="570.5,271.2 580.2,270.5 590.0,270.2 599.7,269.6 609.4,267.7 619.1,265.2 628.9,262.9 638.6,265.2 648.3,262.9 658.0,259.2 667.8,254.1 677.5,253.5 687.2,249.0 697.0,245.9 706.7,242.4 716.4,237.0 726.1,230.4 735.9,229.4 745.6,227.9 755.3,230.1 765.0,226.9 774.8,229.4 784.5,232.9 794.2,235.5 803.9,238.9 813.7,245.6 823.4,249.0 833.1,252.2 842.9,253.5 852.6,260.1 862.3,261.0 872.0,266.4 881.8,266.4 891.5,266.1 901.2,268.9 910.9,271.2 920.7,271.2 930.4,271.8 940.1,271.5 949.9,272.4 959.6,273.1"/>
<polyline class="ln" points="599.7,272.1 609.4,271.2 619.1,270.2 628.9,269.6 638.6,268.9 648.3,268.0 658.0,265.8 667.8,261.7 677.5,255.4 687.2,244.0 697.0,232.6 706.7,223.8 716.4,215.9 726.1,201.6 735.9,170.0 745.6,155.2 755.3,154.2 765.0,154.6 774.8,168.5 784.5,176.4 794.2,192.2 803.9,213.0 813.7,230.1 823.4,239.6 833.1,247.1 842.9,255.4 852.6,261.7 862.3,264.8 872.0,266.4 881.8,268.0 891.5,268.9 901.2,269.6 910.9,270.2 920.7,271.2 930.4,271.8"/>
<polyline class="ln" points="599.7,273.4 609.4,273.1 619.1,272.4 628.9,271.8 638.6,270.5 648.3,268.9 658.0,266.4 667.8,261.7 677.5,260.1 687.2,252.2 697.0,242.7 706.7,220.6 716.4,192.2 726.1,166.9 735.9,134.3 745.6,117.0 755.3,110.3 765.0,110.3 774.8,137.5 784.5,154.2 794.2,179.5 803.9,204.8 813.7,226.9 823.4,240.5 833.1,252.2 842.9,257.6 852.6,263.3 862.3,266.4 872.0,268.0 881.8,269.6 891.5,271.2 901.2,271.8 910.9,272.4 920.7,272.7 930.4,273.1"/>
<polyline class="ln" points="599.7,273.4 609.4,272.4 619.1,271.8 628.9,271.2 638.6,270.8 648.3,270.2 658.0,270.2 667.8,268.0 677.5,264.8 687.2,255.4 697.0,245.9 706.7,230.1 716.4,173.2 726.1,125.5 735.9,103.4 745.6,95.8 755.3,97.4 765.0,94.2 774.8,95.8 784.5,118.5 794.2,160.6 803.9,198.5 813.7,245.9 823.4,252.2 833.1,253.5 842.9,265.5 852.6,268.0 862.3,269.6 872.0,271.2 881.8,272.1 891.5,272.7 901.2,273.4 910.9,273.4 920.7,273.4 930.4,273.4"/>
<polyline class="ln" points="599.7,273.4 609.4,273.4 619.1,273.4 628.9,273.4 638.6,273.4 648.3,273.4 658.0,271.8 667.8,270.5 677.5,268.0 687.2,263.6 697.0,237.0 706.7,214.3 716.4,144.8 726.1,89.5 735.9,92.6 745.6,97.4 755.3,103.0 765.0,101.2 774.8,95.8 784.5,91.0 794.2,132.1 803.9,173.2 813.7,236.4 823.4,250.9 833.1,265.5 842.9,268.0 852.6,269.6 862.3,268.0 872.0,271.2 881.8,272.1 891.5,272.7 901.2,273.4 910.9,273.4 920.7,273.4 930.4,273.4"/>
<polyline class="ln" points="599.7,273.4 609.4,273.4 619.1,273.4 628.9,273.4 638.6,273.4 648.3,273.4 658.0,273.4 667.8,273.4 677.5,273.4 687.2,273.4 697.0,273.4 706.7,252.2 716.4,109.1 726.1,83.1 735.9,90.4 745.6,95.8 755.3,96.7 765.0,95.8 774.8,91.0 784.5,87.2 794.2,84.1 803.9,129.0 813.7,233.2 823.4,271.2 833.1,273.4 842.9,273.4 852.6,273.4 862.3,273.4 872.0,273.4 881.8,273.4 891.5,273.4 901.2,273.4 910.9,273.4 920.7,273.4 930.4,273.4"/>
<polyline class="ln" points="599.7,273.4 609.4,273.4 619.1,273.4 628.9,273.4 638.6,273.4 648.3,273.4 658.0,273.4 667.8,273.4 677.5,273.4 687.2,273.4 697.0,273.4 706.7,258.5 716.4,76.5 726.1,78.4 735.9,80.6 745.6,81.6 755.3,82.2 765.0,80.0 774.8,78.4 784.5,77.5 794.2,76.8 803.9,104.3 813.7,226.9 823.4,272.7 833.1,273.4 842.9,273.4 852.6,273.4 862.3,273.4 872.0,273.4 881.8,273.4 891.5,273.4 901.2,273.4 910.9,273.4 920.7,273.4 930.4,273.4"/>
<polyline class="ln" points="599.7,273.7 609.4,273.7 619.1,273.7 628.9,273.7 638.6,273.7 648.3,273.7 658.0,273.7 667.8,273.7 677.5,273.7 687.2,273.7 697.0,261.7 706.7,252.2 716.4,79.7 726.1,83.1 735.9,90.4 745.6,95.8 755.3,96.7 765.0,95.8 774.8,91.0 784.5,87.2 794.2,84.1 803.9,79.0 813.7,220.6 823.4,272.7 833.1,273.7 842.9,273.7 852.6,273.7 862.3,273.7 872.0,273.7 881.8,273.7 891.5,273.7 901.2,273.7 910.9,273.7 920.7,273.7 930.4,273.7"/>
<rect x="568.2" y="268.8" width="4.6" height="4.8" class="o"/>
<rect x="577.9" y="268.1" width="4.6" height="4.8" class="o"/>
<rect x="587.7" y="267.8" width="4.6" height="4.8" class="o"/>
<rect x="597.4" y="267.2" width="4.6" height="4.8" class="o"/>
<rect x="607.1" y="265.3" width="4.6" height="4.8" class="o"/>
<rect x="616.8" y="262.8" width="4.6" height="4.8" class="o"/>
<rect x="626.6" y="260.5" width="4.6" height="4.8" class="o"/>
<rect x="636.3" y="262.8" width="4.6" height="4.8" class="o"/>
<rect x="646.0" y="260.5" width="4.6" height="4.8" class="o"/>
<rect x="655.7" y="256.8" width="4.6" height="4.8" class="o"/>
<rect x="665.5" y="251.7" width="4.6" height="4.8" class="o"/>
<rect x="675.2" y="251.1" width="4.6" height="4.8" class="o"/>
<rect x="684.9" y="246.6" width="4.6" height="4.8" class="o"/>
<rect x="694.7" y="243.5" width="4.6" height="4.8" class="o"/>
<rect x="704.4" y="240.0" width="4.6" height="4.8" class="o"/>
<rect x="714.1" y="234.6" width="4.6" height="4.8" class="o"/>
<rect x="723.8" y="228.0" width="4.6" height="4.8" class="o"/>
<rect x="733.6" y="227.0" width="4.6" height="4.8" class="o"/>
<rect x="743.3" y="225.5" width="4.6" height="4.8" class="o"/>
<rect x="753.0" y="227.7" width="4.6" height="4.8" class="o"/>
<rect x="762.7" y="224.5" width="4.6" height="4.8" class="o"/>
<rect x="772.5" y="227.0" width="4.6" height="4.8" class="o"/>
<rect x="782.2" y="230.5" width="4.6" height="4.8" class="o"/>
<rect x="791.9" y="233.1" width="4.6" height="4.8" class="o"/>
<rect x="801.6" y="236.5" width="4.6" height="4.8" class="o"/>
<rect x="811.4" y="243.2" width="4.6" height="4.8" class="o"/>
<rect x="821.1" y="246.6" width="4.6" height="4.8" class="o"/>
<rect x="830.8" y="249.8" width="4.6" height="4.8" class="o"/>
<rect x="840.6" y="251.1" width="4.6" height="4.8" class="o"/>
<rect x="850.3" y="257.7" width="4.6" height="4.8" class="o"/>
<rect x="860.0" y="258.6" width="4.6" height="4.8" class="o"/>
<rect x="869.7" y="264.0" width="4.6" height="4.8" class="o"/>
<rect x="879.5" y="264.0" width="4.6" height="4.8" class="o"/>
<rect x="889.2" y="263.7" width="4.6" height="4.8" class="o"/>
<rect x="898.9" y="266.5" width="4.6" height="4.8" class="o"/>
<rect x="908.6" y="268.8" width="4.6" height="4.8" class="o"/>
<rect x="918.4" y="268.8" width="4.6" height="4.8" class="o"/>
<rect x="928.1" y="269.4" width="4.6" height="4.8" class="o"/>
<rect x="937.8" y="269.1" width="4.6" height="4.8" class="o"/>
<rect x="947.6" y="270.0" width="4.6" height="4.8" class="o"/>
<rect x="957.3" y="270.7" width="4.6" height="4.8" class="o"/>
<polygon points="599.7,268.7 600.6,271.3 603.3,271.3 601.1,273.0 601.9,275.6 599.7,274.0 597.4,275.6 598.3,273.0 596.1,271.3 598.8,271.3" class="f"/>
<polygon points="609.4,267.8 610.3,270.3 613.0,270.4 610.8,272.0 611.6,274.6 609.4,273.1 607.2,274.6 608.0,272.0 605.8,270.4 608.5,270.3" class="f"/>
<polygon points="619.1,266.8 620.0,269.4 622.7,269.4 620.6,271.1 621.4,273.7 619.1,272.1 616.9,273.7 617.7,271.1 615.5,269.4 618.3,269.4" class="f"/>
<polygon points="628.9,266.2 629.7,268.8 632.5,268.8 630.3,270.4 631.1,273.1 628.9,271.5 626.6,273.1 627.4,270.4 625.2,268.8 628.0,268.8" class="f"/>
<polygon points="638.6,265.5 639.5,268.1 642.2,268.2 640.0,269.8 640.8,272.4 638.6,270.8 636.4,272.4 637.2,269.8 635.0,268.2 637.7,268.1" class="f"/>
<polygon points="648.3,264.6 649.2,267.2 651.9,267.2 649.7,268.9 650.5,271.5 648.3,269.9 646.1,271.5 646.9,268.9 644.7,267.2 647.4,267.2" class="f"/>
<polygon points="658.0,262.4 658.9,265.0 661.7,265.0 659.5,266.7 660.3,269.3 658.0,267.7 655.8,269.3 656.6,266.7 654.4,265.0 657.2,265.0" class="f"/>
<polygon points="667.8,258.3 668.7,260.9 671.4,260.9 669.2,262.5 670.0,265.2 667.8,263.6 665.5,265.2 666.3,262.5 664.2,260.9 666.9,260.9" class="f"/>
<polygon points="677.5,252.0 678.4,254.5 681.1,254.6 678.9,256.2 679.7,258.8 677.5,257.3 675.3,258.8 676.1,256.2 673.9,254.6 676.6,254.5" class="f"/>
<polygon points="687.2,240.6 688.1,243.2 690.8,243.2 688.7,244.8 689.5,247.5 687.2,245.9 685.0,247.5 685.8,244.8 683.6,243.2 686.3,243.2" class="f"/>
<polygon points="697.0,229.2 697.8,231.8 700.6,231.8 698.4,233.5 699.2,236.1 697.0,234.5 694.7,236.1 695.5,233.5 693.3,231.8 696.1,231.8" class="f"/>
<polygon points="706.7,220.4 707.6,222.9 710.3,223.0 708.1,224.6 708.9,227.2 706.7,225.7 704.4,227.2 705.3,224.6 703.1,223.0 705.8,222.9" class="f"/>
<polygon points="716.4,212.5 717.3,215.0 720.0,215.1 717.8,216.7 718.6,219.3 716.4,217.8 714.2,219.3 715.0,216.7 712.8,215.1 715.5,215.0" class="f"/>
<polygon points="726.1,198.2 727.0,200.8 729.7,200.9 727.6,202.5 728.4,205.1 726.1,203.5 723.9,205.1 724.7,202.5 722.5,200.9 725.3,200.8" class="f"/>
<polygon points="735.9,166.6 736.7,169.2 739.5,169.3 737.3,170.9 738.1,173.5 735.9,171.9 733.6,173.5 734.4,170.9 732.2,169.3 735.0,169.2" class="f"/>
<polygon points="745.6,151.8 746.5,154.4 749.2,154.4 747.0,156.1 747.8,158.7 745.6,157.1 743.4,158.7 744.2,156.1 742.0,154.4 744.7,154.4" class="f"/>
<polygon points="755.3,150.8 756.2,153.4 758.9,153.5 756.7,155.1 757.5,157.7 755.3,156.1 753.1,157.7 753.9,155.1 751.7,153.5 754.4,153.4" class="f"/>
<polygon points="765.0,151.2 765.9,153.7 768.7,153.8 766.5,155.4 767.3,158.0 765.0,156.5 762.8,158.0 763.6,155.4 761.4,153.8 764.2,153.7" class="f"/>
<polygon points="774.8,165.1 775.6,167.6 778.4,167.7 776.2,169.3 777.0,171.9 774.8,170.4 772.5,171.9 773.3,169.3 771.2,167.7 773.9,167.6" class="f"/>
<polygon points="784.5,173.0 785.4,175.5 788.1,175.6 785.9,177.2 786.7,179.8 784.5,178.3 782.3,179.8 783.1,177.2 780.9,175.6 783.6,175.5" class="f"/>
<polygon points="794.2,188.8 795.1,191.3 797.8,191.4 795.6,193.0 796.5,195.6 794.2,194.1 792.0,195.6 792.8,193.0 790.6,191.4 793.3,191.3" class="f"/>
<polygon points="803.9,209.6 804.8,212.2 807.6,212.2 805.4,213.9 806.2,216.5 803.9,214.9 801.7,216.5 802.5,213.9 800.3,212.2 803.1,212.2" class="f"/>
<polygon points="813.7,226.7 814.6,229.3 817.3,229.3 815.1,230.9 815.9,233.6 813.7,232.0 811.4,233.6 812.2,230.9 810.1,229.3 812.8,229.3" class="f"/>
<polygon points="823.4,236.2 824.3,238.7 827.0,238.8 824.8,240.4 825.6,243.0 823.4,241.5 821.2,243.0 822.0,240.4 819.8,238.8 822.5,238.7" class="f"/>
<polygon points="833.1,243.7 834.0,246.3 836.7,246.4 834.6,248.0 835.4,250.6 833.1,249.0 830.9,250.6 831.7,248.0 829.5,246.4 832.2,246.3" class="f"/>
<polygon points="842.9,252.0 843.7,254.5 846.5,254.6 844.3,256.2 845.1,258.8 842.9,257.3 840.6,258.8 841.4,256.2 839.2,254.6 842.0,254.5" class="f"/>
<polygon points="852.6,258.3 853.5,260.9 856.2,260.9 854.0,262.5 854.8,265.2 852.6,263.6 850.3,265.2 851.2,262.5 849.0,260.9 851.7,260.9" class="f"/>
<polygon points="862.3,261.4 863.2,264.0 865.9,264.1 863.7,265.7 864.5,268.3 862.3,266.7 860.1,268.3 860.9,265.7 858.7,264.1 861.4,264.0" class="f"/>
<polygon points="872.0,263.0 872.9,265.6 875.7,265.6 873.5,267.3 874.3,269.9 872.0,268.3 869.8,269.9 870.6,267.3 868.4,265.6 871.2,265.6" class="f"/>
<polygon points="881.8,264.6 882.6,267.2 885.4,267.2 883.2,268.9 884.0,271.5 881.8,269.9 879.5,271.5 880.3,268.9 878.1,267.2 880.9,267.2" class="f"/>
<polygon points="891.5,265.5 892.4,268.1 895.1,268.2 892.9,269.8 893.7,272.4 891.5,270.8 889.3,272.4 890.1,269.8 887.9,268.2 890.6,268.1" class="f"/>
<polygon points="901.2,266.2 902.1,268.8 904.8,268.8 902.6,270.4 903.5,273.1 901.2,271.5 899.0,273.1 899.8,270.4 897.6,268.8 900.3,268.8" class="f"/>
<polygon points="910.9,266.8 911.8,269.4 914.6,269.4 912.4,271.1 913.2,273.7 910.9,272.1 908.7,273.7 909.5,271.1 907.3,269.4 910.1,269.4" class="f"/>
<polygon points="920.7,267.8 921.6,270.3 924.3,270.4 922.1,272.0 922.9,274.6 920.7,273.1 918.4,274.6 919.2,272.0 917.1,270.4 919.8,270.3" class="f"/>
<polygon points="930.4,268.4 931.3,271.0 934.0,271.0 931.8,272.7 932.6,275.3 930.4,273.7 928.2,275.3 929.0,272.7 926.8,271.0 929.5,271.0" class="f"/>
<polygon points="599.7,270.0 603.0,276.2 596.4,276.2" class="o"/>
<polygon points="609.4,269.7 612.7,275.9 606.1,275.9" class="o"/>
<polygon points="619.1,269.0 622.4,275.2 615.8,275.2" class="o"/>
<polygon points="628.9,268.4 632.2,274.6 625.6,274.6" class="o"/>
<polygon points="638.6,267.1 641.9,273.3 635.3,273.3" class="o"/>
<polygon points="648.3,265.5 651.6,271.7 645.0,271.7" class="o"/>
<polygon points="658.0,263.0 661.3,269.2 654.7,269.2" class="o"/>
<polygon points="667.8,258.3 671.1,264.5 664.5,264.5" class="o"/>
<polygon points="677.5,256.7 680.8,262.9 674.2,262.9" class="o"/>
<polygon points="687.2,248.8 690.5,255.0 683.9,255.0" class="o"/>
<polygon points="697.0,239.3 700.3,245.5 693.7,245.5" class="o"/>
<polygon points="706.7,217.2 710.0,223.4 703.4,223.4" class="o"/>
<polygon points="716.4,188.8 719.7,195.0 713.1,195.0" class="o"/>
<polygon points="726.1,163.5 729.4,169.7 722.8,169.7" class="o"/>
<polygon points="735.9,130.9 739.2,137.1 732.6,137.1" class="o"/>
<polygon points="745.6,113.6 748.9,119.8 742.3,119.8" class="o"/>
<polygon points="755.3,106.9 758.6,113.1 752.0,113.1" class="o"/>
<polygon points="765.0,106.9 768.3,113.1 761.7,113.1" class="o"/>
<polygon points="774.8,134.1 778.1,140.3 771.5,140.3" class="o"/>
<polygon points="784.5,150.8 787.8,157.0 781.2,157.0" class="o"/>
<polygon points="794.2,176.1 797.5,182.3 790.9,182.3" class="o"/>
<polygon points="803.9,201.4 807.2,207.6 800.6,207.6" class="o"/>
<polygon points="813.7,223.5 817.0,229.7 810.4,229.7" class="o"/>
<polygon points="823.4,237.1 826.7,243.3 820.1,243.3" class="o"/>
<polygon points="833.1,248.8 836.4,255.0 829.8,255.0" class="o"/>
<polygon points="842.9,254.2 846.2,260.4 839.6,260.4" class="o"/>
<polygon points="852.6,259.9 855.9,266.1 849.3,266.1" class="o"/>
<polygon points="862.3,263.0 865.6,269.2 859.0,269.2" class="o"/>
<polygon points="872.0,264.6 875.3,270.8 868.7,270.8" class="o"/>
<polygon points="881.8,266.2 885.1,272.4 878.5,272.4" class="o"/>
<polygon points="891.5,267.8 894.8,274.0 888.2,274.0" class="o"/>
<polygon points="901.2,268.4 904.5,274.6 897.9,274.6" class="o"/>
<polygon points="910.9,269.0 914.2,275.2 907.6,275.2" class="o"/>
<polygon points="920.7,269.3 924.0,275.5 917.4,275.5" class="o"/>
<polygon points="930.4,269.7 933.7,275.9 927.1,275.9" class="o"/>
<polygon points="596.3,270.6 603.1,270.6 599.7,277.0" class="f"/>
<polygon points="606.0,269.6 612.8,269.6 609.4,276.0" class="f"/>
<polygon points="615.7,269.0 622.5,269.0 619.1,275.4" class="f"/>
<polygon points="625.5,268.4 632.3,268.4 628.9,274.8" class="f"/>
<polygon points="635.2,268.0 642.0,268.0 638.6,274.4" class="f"/>
<polygon points="644.9,267.4 651.7,267.4 648.3,273.8" class="f"/>
<polygon points="654.6,267.4 661.4,267.4 658.0,273.8" class="f"/>
<polygon points="664.4,265.2 671.2,265.2 667.8,271.6" class="f"/>
<polygon points="674.1,262.0 680.9,262.0 677.5,268.4" class="f"/>
<polygon points="683.8,252.6 690.6,252.6 687.2,259.0" class="f"/>
<polygon points="693.6,243.1 700.4,243.1 697.0,249.5" class="f"/>
<polygon points="703.3,227.3 710.1,227.3 706.7,233.7" class="f"/>
<polygon points="713.0,170.4 719.8,170.4 716.4,176.8" class="f"/>
<polygon points="722.7,122.7 729.5,122.7 726.1,129.1" class="f"/>
<polygon points="732.5,100.6 739.3,100.6 735.9,107.0" class="f"/>
<polygon points="742.2,93.0 749.0,93.0 745.6,99.4" class="f"/>
<polygon points="751.9,94.6 758.7,94.6 755.3,101.0" class="f"/>
<polygon points="761.6,91.4 768.4,91.4 765.0,97.8" class="f"/>
<polygon points="771.4,93.0 778.2,93.0 774.8,99.4" class="f"/>
<polygon points="781.1,115.7 787.9,115.7 784.5,122.1" class="f"/>
<polygon points="790.8,157.8 797.6,157.8 794.2,164.2" class="f"/>
<polygon points="800.5,195.7 807.3,195.7 803.9,202.1" class="f"/>
<polygon points="810.3,243.1 817.1,243.1 813.7,249.5" class="f"/>
<polygon points="820.0,249.4 826.8,249.4 823.4,255.8" class="f"/>
<polygon points="829.7,250.7 836.5,250.7 833.1,257.1" class="f"/>
<polygon points="839.5,262.7 846.3,262.7 842.9,269.1" class="f"/>
<polygon points="849.2,265.2 856.0,265.2 852.6,271.6" class="f"/>
<polygon points="858.9,266.8 865.7,266.8 862.3,273.2" class="f"/>
<polygon points="868.6,268.4 875.4,268.4 872.0,274.8" class="f"/>
<polygon points="878.4,269.3 885.2,269.3 881.8,275.7" class="f"/>
<polygon points="888.1,269.9 894.9,269.9 891.5,276.3" class="f"/>
<polygon points="897.8,270.6 904.6,270.6 901.2,277.0" class="f"/>
<polygon points="907.5,270.6 914.3,270.6 910.9,277.0" class="f"/>
<polygon points="917.3,270.6 924.1,270.6 920.7,277.0" class="f"/>
<polygon points="927.0,270.6 933.8,270.6 930.4,277.0" class="f"/>
<polygon points="599.7,269.5 603.1,273.4 599.7,277.3 596.3,273.4" class="o"/>
<polygon points="609.4,269.5 612.8,273.4 609.4,277.3 606.0,273.4" class="o"/>
<polygon points="619.1,269.5 622.5,273.4 619.1,277.3 615.7,273.4" class="o"/>
<polygon points="628.9,269.5 632.3,273.4 628.9,277.3 625.5,273.4" class="o"/>
<polygon points="638.6,269.5 642.0,273.4 638.6,277.3 635.2,273.4" class="o"/>
<polygon points="648.3,269.5 651.7,273.4 648.3,277.3 644.9,273.4" class="o"/>
<polygon points="658.0,267.9 661.4,271.8 658.0,275.7 654.6,271.8" class="o"/>
<polygon points="667.8,266.6 671.2,270.5 667.8,274.4 664.4,270.5" class="o"/>
<polygon points="677.5,264.1 680.9,268.0 677.5,271.9 674.1,268.0" class="o"/>
<polygon points="687.2,259.7 690.6,263.6 687.2,267.5 683.8,263.6" class="o"/>
<polygon points="697.0,233.1 700.4,237.0 697.0,240.9 693.6,237.0" class="o"/>
<polygon points="706.7,210.4 710.1,214.3 706.7,218.2 703.3,214.3" class="o"/>
<polygon points="716.4,140.9 719.8,144.8 716.4,148.7 713.0,144.8" class="o"/>
<polygon points="726.1,85.6 729.5,89.5 726.1,93.4 722.7,89.5" class="o"/>
<polygon points="735.9,88.7 739.3,92.6 735.9,96.5 732.5,92.6" class="o"/>
<polygon points="745.6,93.5 749.0,97.4 745.6,101.3 742.2,97.4" class="o"/>
<polygon points="755.3,99.1 758.7,103.0 755.3,106.9 751.9,103.0" class="o"/>
<polygon points="765.0,97.3 768.4,101.2 765.0,105.1 761.6,101.2" class="o"/>
<polygon points="774.8,91.9 778.2,95.8 774.8,99.7 771.4,95.8" class="o"/>
<polygon points="784.5,87.1 787.9,91.0 784.5,94.9 781.1,91.0" class="o"/>
<polygon points="794.2,128.2 797.6,132.1 794.2,136.0 790.8,132.1" class="o"/>
<polygon points="803.9,169.3 807.3,173.2 803.9,177.1 800.5,173.2" class="o"/>
<polygon points="813.7,232.5 817.1,236.4 813.7,240.3 810.3,236.4" class="o"/>
<polygon points="823.4,247.0 826.8,250.9 823.4,254.8 820.0,250.9" class="o"/>
<polygon points="833.1,261.6 836.5,265.5 833.1,269.4 829.7,265.5" class="o"/>
<polygon points="842.9,264.1 846.3,268.0 842.9,271.9 839.5,268.0" class="o"/>
<polygon points="852.6,265.7 856.0,269.6 852.6,273.5 849.2,269.6" class="o"/>
<polygon points="862.3,264.1 865.7,268.0 862.3,271.9 858.9,268.0" class="o"/>
<polygon points="872.0,267.3 875.4,271.2 872.0,275.1 868.6,271.2" class="o"/>
<polygon points="881.8,268.2 885.2,272.1 881.8,276.0 878.4,272.1" class="o"/>
<polygon points="891.5,268.8 894.9,272.7 891.5,276.6 888.1,272.7" class="o"/>
<polygon points="901.2,269.5 904.6,273.4 901.2,277.3 897.8,273.4" class="o"/>
<polygon points="910.9,269.5 914.3,273.4 910.9,277.3 907.5,273.4" class="o"/>
<polygon points="920.7,269.5 924.1,273.4 920.7,277.3 917.3,273.4" class="o"/>
<polygon points="930.4,269.5 933.8,273.4 930.4,277.3 927.0,273.4" class="o"/>
<polygon points="596.5,273.4 602.3,269.7 602.3,277.1" class="f"/>
<polygon points="606.2,273.4 612.0,269.7 612.0,277.1" class="f"/>
<polygon points="615.9,273.4 621.7,269.7 621.7,277.1" class="f"/>
<polygon points="625.7,273.4 631.5,269.7 631.5,277.1" class="f"/>
<polygon points="635.4,273.4 641.2,269.7 641.2,277.1" class="f"/>
<polygon points="645.1,273.4 650.9,269.7 650.9,277.1" class="f"/>
<polygon points="654.8,273.4 660.6,269.7 660.6,277.1" class="f"/>
<polygon points="664.6,273.4 670.4,269.7 670.4,277.1" class="f"/>
<polygon points="674.3,273.4 680.1,269.7 680.1,277.1" class="f"/>
<polygon points="684.0,273.4 689.8,269.7 689.8,277.1" class="f"/>
<polygon points="693.8,273.4 699.6,269.7 699.6,277.1" class="f"/>
<polygon points="703.5,252.2 709.3,248.5 709.3,255.9" class="f"/>
<polygon points="713.2,109.1 719.0,105.4 719.0,112.8" class="f"/>
<polygon points="722.9,83.1 728.7,79.4 728.7,86.8" class="f"/>
<polygon points="732.7,90.4 738.5,86.7 738.5,94.1" class="f"/>
<polygon points="742.4,95.8 748.2,92.1 748.2,99.5" class="f"/>
<polygon points="752.1,96.7 757.9,93.0 757.9,100.4" class="f"/>
<polygon points="761.8,95.8 767.6,92.1 767.6,99.5" class="f"/>
<polygon points="771.6,91.0 777.4,87.3 777.4,94.7" class="f"/>
<polygon points="781.3,87.2 787.1,83.5 787.1,90.9" class="f"/>
<polygon points="791.0,84.1 796.8,80.4 796.8,87.8" class="f"/>
<polygon points="800.7,129.0 806.5,125.3 806.5,132.7" class="f"/>
<polygon points="810.5,233.2 816.3,229.5 816.3,236.9" class="f"/>
<polygon points="820.2,271.2 826.0,267.5 826.0,274.9" class="f"/>
<polygon points="829.9,273.4 835.7,269.7 835.7,277.1" class="f"/>
<polygon points="839.7,273.4 845.5,269.7 845.5,277.1" class="f"/>
<polygon points="849.4,273.4 855.2,269.7 855.2,277.1" class="f"/>
<polygon points="859.1,273.4 864.9,269.7 864.9,277.1" class="f"/>
<polygon points="868.8,273.4 874.6,269.7 874.6,277.1" class="f"/>
<polygon points="878.6,273.4 884.4,269.7 884.4,277.1" class="f"/>
<polygon points="888.3,273.4 894.1,269.7 894.1,277.1" class="f"/>
<polygon points="898.0,273.4 903.8,269.7 903.8,277.1" class="f"/>
<polygon points="907.7,273.4 913.5,269.7 913.5,277.1" class="f"/>
<polygon points="917.5,273.4 923.3,269.7 923.3,277.1" class="f"/>
<polygon points="927.2,273.4 933.0,269.7 933.0,277.1" class="f"/>
<polygon points="602.9,273.4 597.1,269.7 597.1,277.1" class="o"/>
<polygon points="612.6,273.4 606.8,269.7 606.8,277.1" class="o"/>
<polygon points="622.3,273.4 616.5,269.7 616.5,277.1" class="o"/>
<polygon points="632.1,273.4 626.3,269.7 626.3,277.1" class="o"/>
<polygon points="641.8,273.4 636.0,269.7 636.0,277.1" class="o"/>
<polygon points="651.5,273.4 645.7,269.7 645.7,277.1" class="o"/>
<polygon points="661.2,273.4 655.4,269.7 655.4,277.1" class="o"/>
<polygon points="671.0,273.4 665.2,269.7 665.2,277.1" class="o"/>
<polygon points="680.7,273.4 674.9,269.7 674.9,277.1" class="o"/>
<polygon points="690.4,273.4 684.6,269.7 684.6,277.1" class="o"/>
<polygon points="700.2,273.4 694.4,269.7 694.4,277.1" class="o"/>
<polygon points="709.9,258.5 704.1,254.8 704.1,262.2" class="o"/>
<polygon points="719.6,76.5 713.8,72.8 713.8,80.2" class="o"/>
<polygon points="729.3,78.4 723.5,74.7 723.5,82.1" class="o"/>
<polygon points="739.1,80.6 733.3,76.9 733.3,84.3" class="o"/>
<polygon points="748.8,81.6 743.0,77.9 743.0,85.3" class="o"/>
<polygon points="758.5,82.2 752.7,78.5 752.7,85.9" class="o"/>
<polygon points="768.2,80.0 762.4,76.3 762.4,83.7" class="o"/>
<polygon points="778.0,78.4 772.2,74.7 772.2,82.1" class="o"/>
<polygon points="787.7,77.5 781.9,73.8 781.9,81.2" class="o"/>
<polygon points="797.4,76.8 791.6,73.1 791.6,80.5" class="o"/>
<polygon points="807.1,104.3 801.3,100.6 801.3,108.0" class="o"/>
<polygon points="816.9,226.9 811.1,223.2 811.1,230.6" class="o"/>
<polygon points="826.6,272.7 820.8,269.0 820.8,276.4" class="o"/>
<polygon points="836.3,273.4 830.5,269.7 830.5,277.1" class="o"/>
<polygon points="846.1,273.4 840.3,269.7 840.3,277.1" class="o"/>
<polygon points="855.8,273.4 850.0,269.7 850.0,277.1" class="o"/>
<polygon points="865.5,273.4 859.7,269.7 859.7,277.1" class="o"/>
<polygon points="875.2,273.4 869.4,269.7 869.4,277.1" class="o"/>
<polygon points="885.0,273.4 879.2,269.7 879.2,277.1" class="o"/>
<polygon points="894.7,273.4 888.9,269.7 888.9,277.1" class="o"/>
<polygon points="904.4,273.4 898.6,269.7 898.6,277.1" class="o"/>
<polygon points="914.1,273.4 908.3,269.7 908.3,277.1" class="o"/>
<polygon points="923.9,273.4 918.1,269.7 918.1,277.1" class="o"/>
<polygon points="933.6,273.4 927.8,269.7 927.8,277.1" class="o"/>
<polygon points="599.7,270.5 602.9,273.7 599.7,276.9 596.5,273.7" class="f"/>
<polygon points="609.4,270.5 612.6,273.7 609.4,276.9 606.2,273.7" class="f"/>
<polygon points="619.1,270.5 622.3,273.7 619.1,276.9 615.9,273.7" class="f"/>
<polygon points="628.9,270.5 632.1,273.7 628.9,276.9 625.7,273.7" class="f"/>
<polygon points="638.6,270.5 641.8,273.7 638.6,276.9 635.4,273.7" class="f"/>
<polygon points="648.3,270.5 651.5,273.7 648.3,276.9 645.1,273.7" class="f"/>
<polygon points="658.0,270.5 661.2,273.7 658.0,276.9 654.8,273.7" class="f"/>
<polygon points="667.8,270.5 671.0,273.7 667.8,276.9 664.6,273.7" class="f"/>
<polygon points="677.5,270.5 680.7,273.7 677.5,276.9 674.3,273.7" class="f"/>
<polygon points="687.2,270.5 690.4,273.7 687.2,276.9 684.0,273.7" class="f"/>
<polygon points="697.0,258.5 700.2,261.7 697.0,264.9 693.8,261.7" class="f"/>
<polygon points="706.7,249.0 709.9,252.2 706.7,255.4 703.5,252.2" class="f"/>
<polygon points="716.4,76.5 719.6,79.7 716.4,82.9 713.2,79.7" class="f"/>
<polygon points="726.1,79.9 729.3,83.1 726.1,86.3 722.9,83.1" class="f"/>
<polygon points="735.9,87.2 739.1,90.4 735.9,93.6 732.7,90.4" class="f"/>
<polygon points="745.6,92.6 748.8,95.8 745.6,99.0 742.4,95.8" class="f"/>
<polygon points="755.3,93.5 758.5,96.7 755.3,99.9 752.1,96.7" class="f"/>
<polygon points="765.0,92.6 768.2,95.8 765.0,99.0 761.8,95.8" class="f"/>
<polygon points="774.8,87.8 778.0,91.0 774.8,94.2 771.6,91.0" class="f"/>
<polygon points="784.5,84.0 787.7,87.2 784.5,90.4 781.3,87.2" class="f"/>
<polygon points="794.2,80.9 797.4,84.1 794.2,87.3 791.0,84.1" class="f"/>
<polygon points="803.9,75.8 807.1,79.0 803.9,82.2 800.7,79.0" class="f"/>
<polygon points="813.7,217.4 816.9,220.6 813.7,223.8 810.5,220.6" class="f"/>
<polygon points="823.4,269.5 826.6,272.7 823.4,275.9 820.2,272.7" class="f"/>
<polygon points="833.1,270.5 836.3,273.7 833.1,276.9 829.9,273.7" class="f"/>
<polygon points="842.9,270.5 846.1,273.7 842.9,276.9 839.7,273.7" class="f"/>
<polygon points="852.6,270.5 855.8,273.7 852.6,276.9 849.4,273.7" class="f"/>
<polygon points="862.3,270.5 865.5,273.7 862.3,276.9 859.1,273.7" class="f"/>
<polygon points="872.0,270.5 875.2,273.7 872.0,276.9 868.8,273.7" class="f"/>
<polygon points="881.8,270.5 885.0,273.7 881.8,276.9 878.6,273.7" class="f"/>
<polygon points="891.5,270.5 894.7,273.7 891.5,276.9 888.3,273.7" class="f"/>
<polygon points="901.2,270.5 904.4,273.7 901.2,276.9 898.0,273.7" class="f"/>
<polygon points="910.9,270.5 914.1,273.7 910.9,276.9 907.7,273.7" class="f"/>
<polygon points="920.7,270.5 923.9,273.7 920.7,276.9 917.5,273.7" class="f"/>
<polygon points="930.4,270.5 933.6,273.7 930.4,276.9 927.2,273.7" class="f"/>
</g>
<clipPath id="cpc"><rect x="64.8" y="469.8" width="389.1" height="326.5"/></clipPath>
<g clip-path="url(#cpc)">
<polyline class="ln" points="64.5,746.9 74.2,746.9 83.9,746.9 93.7,746.6 103.4,745.7 113.1,746.3 122.8,740.0 132.5,744.1 142.3,739.3 152.0,742.5 161.7,740.9 171.4,737.7 181.1,734.6 190.9,733.0 200.6,726.7 210.3,725.7 220.0,718.8 229.7,721.9 239.5,717.2 249.2,719.4 258.9,716.2 268.6,720.3 278.3,723.5 288.1,730.2 297.8,728.6 307.5,727.3 317.2,735.2 326.9,739.3 336.7,742.5 346.4,744.1 356.1,745.0 365.8,745.7 375.5,746.3 385.3,746.6 395.0,746.9 404.7,747.2 414.4,747.2 424.1,747.6 433.9,747.6 443.6,747.9 453.3,747.9"/>
<polyline class="ln" points="103.4,747.9 113.1,747.2 122.8,746.3 132.5,744.1 142.3,740.9 152.0,738.1 161.7,731.7 171.4,729.8 181.1,725.1 190.9,718.8 200.6,703.9 210.3,697.9 220.0,677.3 229.7,656.1 239.5,655.5 249.2,652.0 258.9,654.2 268.6,672.5 278.3,678.6 288.1,699.1 297.8,700.1 307.5,710.8 317.2,719.1 326.9,733.0 336.7,734.6 346.4,739.6 356.1,743.1 365.8,745.0 375.5,746.3 385.3,746.9 395.0,747.6 404.7,747.9 414.4,747.9"/>
<polyline class="ln" points="103.4,748.2 113.1,748.2 122.8,747.6 132.5,746.6 142.3,745.0 152.0,742.2 161.7,739.3 171.4,725.7 181.1,723.5 190.9,688.7 200.6,672.9 210.3,663.1 220.0,658.0 229.7,625.1 239.5,610.2 249.2,599.1 258.9,609.6 268.6,619.4 278.3,647.2 288.1,671.3 297.8,689.6 307.5,706.7 317.2,733.0 326.9,742.5 336.7,745.0 346.4,746.3 356.1,746.9 365.8,747.2 375.5,747.6 385.3,747.9 395.0,747.9 404.7,747.9 414.4,747.9"/>
<polyline class="ln" points="103.4,748.8 113.1,748.8 122.8,748.5 132.5,748.2 142.3,747.2 152.0,745.0 161.7,742.5 171.4,734.6 181.1,726.7 190.9,714.0 200.6,673.5 210.3,641.8 220.0,597.2 229.7,579.5 239.5,563.0 249.2,550.7 258.9,553.9 268.6,561.1 278.3,587.7 288.1,634.6 297.8,668.4 307.5,695.0 317.2,736.2 326.9,745.7 336.7,746.9 346.4,747.6 356.1,747.9 365.8,748.2 375.5,748.2 385.3,748.5 395.0,748.5 404.7,748.8 414.4,748.8"/>
<polyline class="ln" points="103.4,748.8 113.1,748.8 122.8,748.8 132.5,748.8 142.3,748.2 152.0,747.2 161.7,745.0 171.4,740.6 181.1,731.7 190.9,717.2 200.6,643.4 210.3,585.2 220.0,574.8 229.7,584.6 239.5,610.8 249.2,625.1 258.9,608.9 268.6,579.2 278.3,569.1 288.1,559.9 297.8,643.7 307.5,701.3 317.2,736.2 326.9,735.2 336.7,743.1 346.4,745.7 356.1,747.2 365.8,748.8 375.5,748.8 385.3,748.8 395.0,748.8 404.7,748.8 414.4,748.8"/>
<polyline class="ln" points="103.4,748.8 113.1,748.8 122.8,748.8 132.5,748.8 142.3,748.8 152.0,748.8 161.7,748.8 171.4,748.8 181.1,748.2 190.9,742.5 200.6,655.8 210.3,557.0 220.0,553.9 229.7,550.4 239.5,546.3 249.2,550.7 258.9,550.4 268.6,558.6 278.3,563.7 288.1,571.6 297.8,579.2 307.5,669.7 317.2,745.7 326.9,748.2 336.7,748.5 346.4,748.8 356.1,748.8 365.8,748.8 375.5,748.8 385.3,748.8 395.0,748.8 404.7,748.8 414.4,748.8"/>
<polyline class="ln" points="103.4,748.8 113.1,748.8 122.8,748.8 132.5,748.8 142.3,748.8 152.0,748.8 161.7,748.8 171.4,748.8 181.1,748.5 190.9,740.9 200.6,576.0 210.3,552.9 220.0,567.8 229.7,585.8 239.5,634.6 249.2,661.2 258.9,643.4 268.6,600.1 278.3,574.8 288.1,555.1 297.8,559.6 307.5,701.3 317.2,745.7 326.9,748.2 336.7,748.8 346.4,748.8 356.1,748.8 365.8,748.8 375.5,748.8 385.3,748.8 395.0,748.8 404.7,748.8 414.4,748.8"/>
<polyline class="ln" points="103.4,748.8 113.1,748.8 122.8,748.8 132.5,748.8 142.3,748.8 152.0,748.8 161.7,748.8 171.4,748.8 181.1,748.8 190.9,742.2 200.6,551.0 210.3,557.0 220.0,571.9 229.7,572.9 239.5,568.7 249.2,564.9 258.9,569.4 268.6,583.3 278.3,576.3 288.1,569.7 297.8,554.5 307.5,636.8 317.2,746.9 326.9,748.2 336.7,748.8 346.4,748.8 356.1,748.8 365.8,748.8 375.5,748.8 385.3,748.8 395.0,748.8 404.7,748.8 414.4,748.8"/>
<rect x="62.2" y="744.5" width="4.6" height="4.8" class="o"/>
<rect x="71.9" y="744.5" width="4.6" height="4.8" class="o"/>
<rect x="81.6" y="744.5" width="4.6" height="4.8" class="o"/>
<rect x="91.4" y="744.2" width="4.6" height="4.8" class="o"/>
<rect x="101.1" y="743.3" width="4.6" height="4.8" class="o"/>
<rect x="110.8" y="743.9" width="4.6" height="4.8" class="o"/>
<rect x="120.5" y="737.6" width="4.6" height="4.8" class="o"/>
<rect x="130.2" y="741.7" width="4.6" height="4.8" class="o"/>
<rect x="140.0" y="736.9" width="4.6" height="4.8" class="o"/>
<rect x="149.7" y="740.1" width="4.6" height="4.8" class="o"/>
<rect x="159.4" y="738.5" width="4.6" height="4.8" class="o"/>
<rect x="169.1" y="735.3" width="4.6" height="4.8" class="o"/>
<rect x="178.8" y="732.2" width="4.6" height="4.8" class="o"/>
<rect x="188.6" y="730.6" width="4.6" height="4.8" class="o"/>
<rect x="198.3" y="724.3" width="4.6" height="4.8" class="o"/>
<rect x="208.0" y="723.3" width="4.6" height="4.8" class="o"/>
<rect x="217.7" y="716.4" width="4.6" height="4.8" class="o"/>
<rect x="227.4" y="719.5" width="4.6" height="4.8" class="o"/>
<rect x="237.2" y="714.8" width="4.6" height="4.8" class="o"/>
<rect x="246.9" y="717.0" width="4.6" height="4.8" class="o"/>
<rect x="256.6" y="713.8" width="4.6" height="4.8" class="o"/>
<rect x="266.3" y="717.9" width="4.6" height="4.8" class="o"/>
<rect x="276.0" y="721.1" width="4.6" height="4.8" class="o"/>
<rect x="285.8" y="727.8" width="4.6" height="4.8" class="o"/>
<rect x="295.5" y="726.2" width="4.6" height="4.8" class="o"/>
<rect x="305.2" y="724.9" width="4.6" height="4.8" class="o"/>
<rect x="314.9" y="732.8" width="4.6" height="4.8" class="o"/>
<rect x="324.6" y="736.9" width="4.6" height="4.8" class="o"/>
<rect x="334.4" y="740.1" width="4.6" height="4.8" class="o"/>
<rect x="344.1" y="741.7" width="4.6" height="4.8" class="o"/>
<rect x="353.8" y="742.6" width="4.6" height="4.8" class="o"/>
<rect x="363.5" y="743.3" width="4.6" height="4.8" class="o"/>
<rect x="373.2" y="743.9" width="4.6" height="4.8" class="o"/>
<rect x="383.0" y="744.2" width="4.6" height="4.8" class="o"/>
<rect x="392.7" y="744.5" width="4.6" height="4.8" class="o"/>
<rect x="402.4" y="744.8" width="4.6" height="4.8" class="o"/>
<rect x="412.1" y="744.8" width="4.6" height="4.8" class="o"/>
<rect x="421.8" y="745.2" width="4.6" height="4.8" class="o"/>
<rect x="431.6" y="745.2" width="4.6" height="4.8" class="o"/>
<rect x="441.3" y="745.5" width="4.6" height="4.8" class="o"/>
<rect x="451.0" y="745.5" width="4.6" height="4.8" class="o"/>
<polygon points="103.4,744.5 104.3,747.1 107.0,747.1 104.8,748.7 105.6,751.3 103.4,749.8 101.1,751.3 102.0,748.7 99.8,747.1 102.5,747.1" class="f"/>
<polygon points="113.1,743.8 114.0,746.4 116.7,746.5 114.5,748.1 115.3,750.7 113.1,749.1 110.9,750.7 111.7,748.1 109.5,746.5 112.2,746.4" class="f"/>
<polygon points="122.8,742.9 123.7,745.5 126.4,745.5 124.2,747.2 125.1,749.8 122.8,748.2 120.6,749.8 121.4,747.2 119.2,745.5 121.9,745.5" class="f"/>
<polygon points="132.5,740.7 133.4,743.3 136.2,743.3 134.0,744.9 134.8,747.6 132.5,746.0 130.3,747.6 131.1,744.9 128.9,743.3 131.7,743.3" class="f"/>
<polygon points="142.3,737.5 143.1,740.1 145.9,740.1 143.7,741.8 144.5,744.4 142.3,742.8 140.0,744.4 140.8,741.8 138.6,740.1 141.4,740.1" class="f"/>
<polygon points="152.0,734.7 152.9,737.3 155.6,737.3 153.4,738.9 154.2,741.5 152.0,740.0 149.7,741.5 150.6,738.9 148.4,737.3 151.1,737.3" class="f"/>
<polygon points="161.7,728.3 162.6,730.9 165.3,731.0 163.1,732.6 163.9,735.2 161.7,733.6 159.5,735.2 160.3,732.6 158.1,731.0 160.8,730.9" class="f"/>
<polygon points="171.4,726.4 172.3,729.0 175.0,729.1 172.8,730.7 173.7,733.3 171.4,731.7 169.2,733.3 170.0,730.7 167.8,729.1 170.5,729.0" class="f"/>
<polygon points="181.1,721.7 182.0,724.3 184.8,724.3 182.6,726.0 183.4,728.6 181.1,727.0 178.9,728.6 179.7,726.0 177.5,724.3 180.3,724.3" class="f"/>
<polygon points="190.9,715.4 191.7,717.9 194.5,718.0 192.3,719.6 193.1,722.2 190.9,720.7 188.6,722.2 189.4,719.6 187.2,718.0 190.0,717.9" class="f"/>
<polygon points="200.6,700.5 201.5,703.1 204.2,703.1 202.0,704.7 202.8,707.4 200.6,705.8 198.3,707.4 199.2,704.7 197.0,703.1 199.7,703.1" class="f"/>
<polygon points="210.3,694.5 211.2,697.1 213.9,697.1 211.7,698.7 212.5,701.3 210.3,699.8 208.1,701.3 208.9,698.7 206.7,697.1 209.4,697.1" class="f"/>
<polygon points="220.0,673.9 220.9,676.5 223.6,676.5 221.4,678.2 222.3,680.8 220.0,679.2 217.8,680.8 218.6,678.2 216.4,676.5 219.1,676.5" class="f"/>
<polygon points="229.7,652.7 230.6,655.3 233.4,655.3 231.2,657.0 232.0,659.6 229.7,658.0 227.5,659.6 228.3,657.0 226.1,655.3 228.9,655.3" class="f"/>
<polygon points="239.5,652.1 240.3,654.6 243.1,654.7 240.9,656.3 241.7,658.9 239.5,657.4 237.2,658.9 238.0,656.3 235.8,654.7 238.6,654.6" class="f"/>
<polygon points="249.2,648.6 250.1,651.2 252.8,651.2 250.6,652.8 251.4,655.5 249.2,653.9 246.9,655.5 247.8,652.8 245.6,651.2 248.3,651.2" class="f"/>
<polygon points="258.9,650.8 259.8,653.4 262.5,653.4 260.3,655.1 261.1,657.7 258.9,656.1 256.7,657.7 257.5,655.1 255.3,653.4 258.0,653.4" class="f"/>
<polygon points="268.6,669.1 269.5,671.7 272.2,671.8 270.0,673.4 270.9,676.0 268.6,674.4 266.4,676.0 267.2,673.4 265.0,671.8 267.7,671.7" class="f"/>
<polygon points="278.3,675.2 279.2,677.7 282.0,677.8 279.8,679.4 280.6,682.0 278.3,680.5 276.1,682.0 276.9,679.4 274.7,677.8 277.5,677.7" class="f"/>
<polygon points="288.1,695.7 288.9,698.3 291.7,698.4 289.5,700.0 290.3,702.6 288.1,701.0 285.8,702.6 286.6,700.0 284.4,698.4 287.2,698.3" class="f"/>
<polygon points="297.8,696.7 298.7,699.3 301.4,699.3 299.2,700.9 300.0,703.6 297.8,702.0 295.5,703.6 296.4,700.9 294.2,699.3 296.9,699.3" class="f"/>
<polygon points="307.5,707.4 308.4,710.0 311.1,710.1 308.9,711.7 309.7,714.3 307.5,712.7 305.3,714.3 306.1,711.7 303.9,710.1 306.6,710.0" class="f"/>
<polygon points="317.2,715.7 318.1,718.3 320.8,718.3 318.6,719.9 319.5,722.5 317.2,721.0 315.0,722.5 315.8,719.9 313.6,718.3 316.3,718.3" class="f"/>
<polygon points="326.9,729.6 327.8,732.2 330.6,732.2 328.4,733.9 329.2,736.5 326.9,734.9 324.7,736.5 325.5,733.9 323.3,732.2 326.1,732.2" class="f"/>
<polygon points="336.7,731.2 337.5,733.8 340.3,733.8 338.1,735.4 338.9,738.1 336.7,736.5 334.4,738.1 335.2,735.4 333.0,733.8 335.8,733.8" class="f"/>
<polygon points="346.4,736.2 347.3,738.8 350.0,738.9 347.8,740.5 348.6,743.1 346.4,741.5 344.1,743.1 345.0,740.5 342.8,738.9 345.5,738.8" class="f"/>
<polygon points="356.1,739.7 357.0,742.3 359.7,742.4 357.5,744.0 358.3,746.6 356.1,745.0 353.9,746.6 354.7,744.0 352.5,742.4 355.2,742.3" class="f"/>
<polygon points="365.8,741.6 366.7,744.2 369.4,744.3 367.2,745.9 368.1,748.5 365.8,746.9 363.6,748.5 364.4,745.9 362.2,744.3 364.9,744.2" class="f"/>
<polygon points="375.5,742.9 376.4,745.5 379.2,745.5 377.0,747.2 377.8,749.8 375.5,748.2 373.3,749.8 374.1,747.2 371.9,745.5 374.7,745.5" class="f"/>
<polygon points="385.3,743.5 386.1,746.1 388.9,746.2 386.7,747.8 387.5,750.4 385.3,748.8 383.0,750.4 383.8,747.8 381.6,746.2 384.4,746.1" class="f"/>
<polygon points="395.0,744.2 395.9,746.7 398.6,746.8 396.4,748.4 397.2,751.0 395.0,749.5 392.7,751.0 393.6,748.4 391.4,746.8 394.1,746.7" class="f"/>
<polygon points="404.7,744.5 405.6,747.1 408.3,747.1 406.1,748.7 406.9,751.3 404.7,749.8 402.5,751.3 403.3,748.7 401.1,747.1 403.8,747.1" class="f"/>
<polygon points="414.4,744.5 415.3,747.1 418.0,747.1 415.8,748.7 416.7,751.3 414.4,749.8 412.2,751.3 413.0,748.7 410.8,747.1 413.5,747.1" class="f"/>
<polygon points="103.4,744.8 106.7,751.0 100.1,751.0" class="o"/>
<polygon points="113.1,744.8 116.4,751.0 109.8,751.0" class="o"/>
<polygon points="122.8,744.2 126.1,750.4 119.5,750.4" class="o"/>
<polygon points="132.5,743.2 135.8,749.4 129.2,749.4" class="o"/>
<polygon points="142.3,741.6 145.6,747.8 139.0,747.8" class="o"/>
<polygon points="152.0,738.8 155.3,745.0 148.7,745.0" class="o"/>
<polygon points="161.7,735.9 165.0,742.1 158.4,742.1" class="o"/>
<polygon points="171.4,722.3 174.7,728.5 168.1,728.5" class="o"/>
<polygon points="181.1,720.1 184.4,726.3 177.8,726.3" class="o"/>
<polygon points="190.9,685.3 194.2,691.5 187.6,691.5" class="o"/>
<polygon points="200.6,669.5 203.9,675.7 197.3,675.7" class="o"/>
<polygon points="210.3,659.7 213.6,665.9 207.0,665.9" class="o"/>
<polygon points="220.0,654.6 223.3,660.8 216.7,660.8" class="o"/>
<polygon points="229.7,621.7 233.0,627.9 226.4,627.9" class="o"/>
<polygon points="239.5,606.8 242.8,613.0 236.2,613.0" class="o"/>
<polygon points="249.2,595.7 252.5,601.9 245.9,601.9" class="o"/>
<polygon points="258.9,606.2 262.2,612.4 255.6,612.4" class="o"/>
<polygon points="268.6,616.0 271.9,622.2 265.3,622.2" class="o"/>
<polygon points="278.3,643.8 281.6,650.0 275.0,650.0" class="o"/>
<polygon points="288.1,667.9 291.4,674.1 284.8,674.1" class="o"/>
<polygon points="297.8,686.2 301.1,692.4 294.5,692.4" class="o"/>
<polygon points="307.5,703.3 310.8,709.5 304.2,709.5" class="o"/>
<polygon points="317.2,729.6 320.5,735.8 313.9,735.8" class="o"/>
<polygon points="326.9,739.1 330.2,745.3 323.6,745.3" class="o"/>
<polygon points="336.7,741.6 340.0,747.8 333.4,747.8" class="o"/>
<polygon points="346.4,742.9 349.7,749.1 343.1,749.1" class="o"/>
<polygon points="356.1,743.5 359.4,749.7 352.8,749.7" class="o"/>
<polygon points="365.8,743.8 369.1,750.0 362.5,750.0" class="o"/>
<polygon points="375.5,744.2 378.8,750.4 372.2,750.4" class="o"/>
<polygon points="385.3,744.5 388.6,750.7 382.0,750.7" class="o"/>
<polygon points="395.0,744.5 398.3,750.7 391.7,750.7" class="o"/>
<polygon points="404.7,744.5 408.0,750.7 401.4,750.7" class="o"/>
<polygon points="414.4,744.5 417.7,750.7 411.1,750.7" class="o"/>
<polygon points="100.0,746.0 106.8,746.0 103.4,752.4" class="f"/>
<polygon points="109.7,746.0 116.5,746.0 113.1,752.4" class="f"/>
<polygon points="119.4,745.7 126.2,745.7 122.8,752.1" class="f"/>
<polygon points="129.1,745.4 135.9,745.4 132.5,751.8" class="f"/>
<polygon points="138.9,744.4 145.7,744.4 142.3,750.8" class="f"/>
<polygon points="148.6,742.2 155.4,742.2 152.0,748.6" class="f"/>
<polygon points="158.3,739.7 165.1,739.7 161.7,746.1" class="f"/>
<polygon points="168.0,731.8 174.8,731.8 171.4,738.2" class="f"/>
<polygon points="177.7,723.9 184.5,723.9 181.1,730.3" class="f"/>
<polygon points="187.5,711.2 194.3,711.2 190.9,717.6" class="f"/>
<polygon points="197.2,670.7 204.0,670.7 200.6,677.1" class="f"/>
<polygon points="206.9,639.0 213.7,639.0 210.3,645.4" class="f"/>
<polygon points="216.6,594.4 223.4,594.4 220.0,600.8" class="f"/>
<polygon points="226.3,576.7 233.1,576.7 229.7,583.1" class="f"/>
<polygon points="236.1,560.2 242.9,560.2 239.5,566.6" class="f"/>
<polygon points="245.8,547.9 252.6,547.9 249.2,554.3" class="f"/>
<polygon points="255.5,551.1 262.3,551.1 258.9,557.5" class="f"/>
<polygon points="265.2,558.3 272.0,558.3 268.6,564.7" class="f"/>
<polygon points="274.9,584.9 281.7,584.9 278.3,591.3" class="f"/>
<polygon points="284.7,631.8 291.5,631.8 288.1,638.2" class="f"/>
<polygon points="294.4,665.6 301.2,665.6 297.8,672.0" class="f"/>
<polygon points="304.1,692.2 310.9,692.2 307.5,698.6" class="f"/>
<polygon points="313.8,733.4 320.6,733.4 317.2,739.8" class="f"/>
<polygon points="323.5,742.9 330.3,742.9 326.9,749.3" class="f"/>
<polygon points="333.3,744.1 340.1,744.1 336.7,750.5" class="f"/>
<polygon points="343.0,744.8 349.8,744.8 346.4,751.2" class="f"/>
<polygon points="352.7,745.1 359.5,745.1 356.1,751.5" class="f"/>
<polygon points="362.4,745.4 369.2,745.4 365.8,751.8" class="f"/>
<polygon points="372.1,745.4 378.9,745.4 375.5,751.8" class="f"/>
<polygon points="381.9,745.7 388.7,745.7 385.3,752.1" class="f"/>
<polygon points="391.6,745.7 398.4,745.7 395.0,752.1" class="f"/>
<polygon points="401.3,746.0 408.1,746.0 404.7,752.4" class="f"/>
<polygon points="411.0,746.0 417.8,746.0 414.4,752.4" class="f"/>
<polygon points="103.4,744.9 106.8,748.8 103.4,752.7 100.0,748.8" class="o"/>
<polygon points="113.1,744.9 116.5,748.8 113.1,752.7 109.7,748.8" class="o"/>
<polygon points="122.8,744.9 126.2,748.8 122.8,752.7 119.4,748.8" class="o"/>
<polygon points="132.5,744.9 135.9,748.8 132.5,752.7 129.1,748.8" class="o"/>
<polygon points="142.3,744.3 145.7,748.2 142.3,752.1 138.9,748.2" class="o"/>
<polygon points="152.0,743.3 155.4,747.2 152.0,751.1 148.6,747.2" class="o"/>
<polygon points="161.7,741.1 165.1,745.0 161.7,748.9 158.3,745.0" class="o"/>
<polygon points="171.4,736.7 174.8,740.6 171.4,744.5 168.0,740.6" class="o"/>
<polygon points="181.1,727.8 184.5,731.7 181.1,735.6 177.7,731.7" class="o"/>
<polygon points="190.9,713.3 194.3,717.2 190.9,721.1 187.5,717.2" class="o"/>
<polygon points="200.6,639.5 204.0,643.4 200.6,647.3 197.2,643.4" class="o"/>
<polygon points="210.3,581.3 213.7,585.2 210.3,589.1 206.9,585.2" class="o"/>
<polygon points="220.0,570.9 223.4,574.8 220.0,578.6 216.6,574.8" class="o"/>
<polygon points="229.7,580.7 233.1,584.6 229.7,588.5 226.3,584.6" class="o"/>
<polygon points="239.5,606.9 242.9,610.8 239.5,614.7 236.1,610.8" class="o"/>
<polygon points="249.2,621.2 252.6,625.1 249.2,629.0 245.8,625.1" class="o"/>
<polygon points="258.9,605.0 262.3,608.9 258.9,612.8 255.5,608.9" class="o"/>
<polygon points="268.6,575.3 272.0,579.2 268.6,583.1 265.2,579.2" class="o"/>
<polygon points="278.3,565.2 281.7,569.1 278.3,573.0 274.9,569.1" class="o"/>
<polygon points="288.1,556.0 291.5,559.9 288.1,563.8 284.7,559.9" class="o"/>
<polygon points="297.8,639.8 301.2,643.7 297.8,647.6 294.4,643.7" class="o"/>
<polygon points="307.5,697.4 310.9,701.3 307.5,705.2 304.1,701.3" class="o"/>
<polygon points="317.2,732.3 320.6,736.2 317.2,740.1 313.8,736.2" class="o"/>
<polygon points="326.9,731.3 330.3,735.2 326.9,739.1 323.5,735.2" class="o"/>
<polygon points="336.7,739.2 340.1,743.1 336.7,747.0 333.3,743.1" class="o"/>
<polygon points="346.4,741.8 349.8,745.7 346.4,749.6 343.0,745.7" class="o"/>
<polygon points="356.1,743.3 359.5,747.2 356.1,751.1 352.7,747.2" class="o"/>
<polygon points="365.8,744.9 369.2,748.8 365.8,752.7 362.4,748.8" class="o"/>
<polygon points="375.5,744.9 378.9,748.8 375.5,752.7 372.1,748.8" class="o"/>
<polygon points="385.3,744.9 388.7,748.8 385.3,752.7 381.9,748.8" class="o"/>
<polygon points="395.0,744.9 398.4,748.8 395.0,752.7 391.6,748.8" class="o"/>
<polygon points="404.7,744.9 408.1,748.8 404.7,752.7 401.3,748.8" class="o"/>
<polygon points="414.4,744.9 417.8,748.8 414.4,752.7 411.0,748.8" class="o"/>
<polygon points="100.2,748.8 106.0,745.1 106.0,752.5" class="f"/>
<polygon points="109.9,748.8 115.7,745.1 115.7,752.5" class="f"/>
<polygon points="119.6,748.8 125.4,745.1 125.4,752.5" class="f"/>
<polygon points="129.3,748.8 135.1,745.1 135.1,752.5" class="f"/>
<polygon points="139.1,748.8 144.9,745.1 144.9,752.5" class="f"/>
<polygon points="148.8,748.8 154.6,745.1 154.6,752.5" class="f"/>
<polygon points="158.5,748.8 164.3,745.1 164.3,752.5" class="f"/>
<polygon points="168.2,748.8 174.0,745.1 174.0,752.5" class="f"/>
<polygon points="177.9,748.2 183.7,744.5 183.7,751.9" class="f"/>
<polygon points="187.7,742.5 193.5,738.8 193.5,746.2" class="f"/>
<polygon points="197.4,655.8 203.2,652.1 203.2,659.5" class="f"/>
<polygon points="207.1,557.0 212.9,553.3 212.9,560.7" class="f"/>
<polygon points="216.8,553.9 222.6,550.2 222.6,557.6" class="f"/>
<polygon points="226.5,550.4 232.3,546.7 232.3,554.1" class="f"/>
<polygon points="236.3,546.3 242.1,542.6 242.1,550.0" class="f"/>
<polygon points="246.0,550.7 251.8,547.0 251.8,554.4" class="f"/>
<polygon points="255.7,550.4 261.5,546.7 261.5,554.1" class="f"/>
<polygon points="265.4,558.6 271.2,554.9 271.2,562.3" class="f"/>
<polygon points="275.1,563.7 280.9,560.0 280.9,567.4" class="f"/>
<polygon points="284.9,571.6 290.7,567.9 290.7,575.3" class="f"/>
<polygon points="294.6,579.2 300.4,575.5 300.4,582.9" class="f"/>
<polygon points="304.3,669.7 310.1,666.0 310.1,673.4" class="f"/>
<polygon points="314.0,745.7 319.8,742.0 319.8,749.4" class="f"/>
<polygon points="323.7,748.2 329.5,744.5 329.5,751.9" class="f"/>
<polygon points="333.5,748.5 339.3,744.8 339.3,752.2" class="f"/>
<polygon points="343.2,748.8 349.0,745.1 349.0,752.5" class="f"/>
<polygon points="352.9,748.8 358.7,745.1 358.7,752.5" class="f"/>
<polygon points="362.6,748.8 368.4,745.1 368.4,752.5" class="f"/>
<polygon points="372.3,748.8 378.1,745.1 378.1,752.5" class="f"/>
<polygon points="382.1,748.8 387.9,745.1 387.9,752.5" class="f"/>
<polygon points="391.8,748.8 397.6,745.1 397.6,752.5" class="f"/>
<polygon points="401.5,748.8 407.3,745.1 407.3,752.5" class="f"/>
<polygon points="411.2,748.8 417.0,745.1 417.0,752.5" class="f"/>
<polygon points="106.6,748.8 100.8,745.1 100.8,752.5" class="o"/>
<polygon points="116.3,748.8 110.5,745.1 110.5,752.5" class="o"/>
<polygon points="126.0,748.8 120.2,745.1 120.2,752.5" class="o"/>
<polygon points="135.7,748.8 129.9,745.1 129.9,752.5" class="o"/>
<polygon points="145.5,748.8 139.7,745.1 139.7,752.5" class="o"/>
<polygon points="155.2,748.8 149.4,745.1 149.4,752.5" class="o"/>
<polygon points="164.9,748.8 159.1,745.1 159.1,752.5" class="o"/>
<polygon points="174.6,748.8 168.8,745.1 168.8,752.5" class="o"/>
<polygon points="184.3,748.5 178.5,744.8 178.5,752.2" class="o"/>
<polygon points="194.1,740.9 188.3,737.2 188.3,744.6" class="o"/>
<polygon points="203.8,576.0 198.0,572.3 198.0,579.7" class="o"/>
<polygon points="213.5,552.9 207.7,549.2 207.7,556.6" class="o"/>
<polygon points="223.2,567.8 217.4,564.1 217.4,571.5" class="o"/>
<polygon points="232.9,585.8 227.1,582.1 227.1,589.5" class="o"/>
<polygon points="242.7,634.6 236.9,630.9 236.9,638.3" class="o"/>
<polygon points="252.4,661.2 246.6,657.5 246.6,664.9" class="o"/>
<polygon points="262.1,643.4 256.3,639.7 256.3,647.1" class="o"/>
<polygon points="271.8,600.1 266.0,596.4 266.0,603.8" class="o"/>
<polygon points="281.5,574.8 275.7,571.0 275.7,578.5" class="o"/>
<polygon points="291.3,555.1 285.5,551.4 285.5,558.8" class="o"/>
<polygon points="301.0,559.6 295.2,555.9 295.2,563.3" class="o"/>
<polygon points="310.7,701.3 304.9,697.6 304.9,705.0" class="o"/>
<polygon points="320.4,745.7 314.6,742.0 314.6,749.4" class="o"/>
<polygon points="330.1,748.2 324.3,744.5 324.3,751.9" class="o"/>
<polygon points="339.9,748.8 334.1,745.1 334.1,752.5" class="o"/>
<polygon points="349.6,748.8 343.8,745.1 343.8,752.5" class="o"/>
<polygon points="359.3,748.8 353.5,745.1 353.5,752.5" class="o"/>
<polygon points="369.0,748.8 363.2,745.1 363.2,752.5" class="o"/>
<polygon points="378.7,748.8 372.9,745.1 372.9,752.5" class="o"/>
<polygon points="388.5,748.8 382.7,745.1 382.7,752.5" class="o"/>
<polygon points="398.2,748.8 392.4,745.1 392.4,752.5" class="o"/>
<polygon points="407.9,748.8 402.1,745.1 402.1,752.5" class="o"/>
<polygon points="417.6,748.8 411.8,745.1 411.8,752.5" class="o"/>
<polygon points="103.4,745.6 106.6,748.8 103.4,752.0 100.2,748.8" class="f"/>
<polygon points="113.1,745.6 116.3,748.8 113.1,752.0 109.9,748.8" class="f"/>
<polygon points="122.8,745.6 126.0,748.8 122.8,752.0 119.6,748.8" class="f"/>
<polygon points="132.5,745.6 135.7,748.8 132.5,752.0 129.3,748.8" class="f"/>
<polygon points="142.3,745.6 145.5,748.8 142.3,752.0 139.1,748.8" class="f"/>
<polygon points="152.0,745.6 155.2,748.8 152.0,752.0 148.8,748.8" class="f"/>
<polygon points="161.7,745.6 164.9,748.8 161.7,752.0 158.5,748.8" class="f"/>
<polygon points="171.4,745.6 174.6,748.8 171.4,752.0 168.2,748.8" class="f"/>
<polygon points="181.1,745.6 184.3,748.8 181.1,752.0 177.9,748.8" class="f"/>
<polygon points="190.9,739.0 194.1,742.2 190.9,745.4 187.7,742.2" class="f"/>
<polygon points="200.6,547.8 203.8,551.0 200.6,554.2 197.4,551.0" class="f"/>
<polygon points="210.3,553.8 213.5,557.0 210.3,560.2 207.1,557.0" class="f"/>
<polygon points="220.0,568.7 223.2,571.9 220.0,575.1 216.8,571.9" class="f"/>
<polygon points="229.7,569.7 232.9,572.9 229.7,576.1 226.5,572.9" class="f"/>
<polygon points="239.5,565.5 242.7,568.7 239.5,571.9 236.3,568.7" class="f"/>
<polygon points="249.2,561.7 252.4,564.9 249.2,568.1 246.0,564.9" class="f"/>
<polygon points="258.9,566.2 262.1,569.4 258.9,572.6 255.7,569.4" class="f"/>
<polygon points="268.6,580.1 271.8,583.3 268.6,586.5 265.4,583.3" class="f"/>
<polygon points="278.3,573.1 281.5,576.3 278.3,579.5 275.1,576.3" class="f"/>
<polygon points="288.1,566.5 291.3,569.7 288.1,572.9 284.9,569.7" class="f"/>
<polygon points="297.8,551.3 301.0,554.5 297.8,557.7 294.6,554.5" class="f"/>
<polygon points="307.5,633.6 310.7,636.8 307.5,640.0 304.3,636.8" class="f"/>
<polygon points="317.2,743.7 320.4,746.9 317.2,750.1 314.0,746.9" class="f"/>
<polygon points="326.9,745.0 330.1,748.2 326.9,751.4 323.7,748.2" class="f"/>
<polygon points="336.7,745.6 339.9,748.8 336.7,752.0 333.5,748.8" class="f"/>
<polygon points="346.4,745.6 349.6,748.8 346.4,752.0 343.2,748.8" class="f"/>
<polygon points="356.1,745.6 359.3,748.8 356.1,752.0 352.9,748.8" class="f"/>
<polygon points="365.8,745.6 369.0,748.8 365.8,752.0 362.6,748.8" class="f"/>
<polygon points="375.5,745.6 378.7,748.8 375.5,752.0 372.3,748.8" class="f"/>
<polygon points="385.3,745.6 388.5,748.8 385.3,752.0 382.1,748.8" class="f"/>
<polygon points="395.0,745.6 398.2,748.8 395.0,752.0 391.8,748.8" class="f"/>
<polygon points="404.7,745.6 407.9,748.8 404.7,752.0 401.5,748.8" class="f"/>
<polygon points="414.4,745.6 417.6,748.8 414.4,752.0 411.2,748.8" class="f"/>
</g>
<clipPath id="cpd"><rect x="581.3" y="469.8" width="389.1" height="326.5"/></clipPath>
<g clip-path="url(#cpd)">
<polyline class="ln" points="581.0,764.0 590.7,764.0 600.4,763.7 610.2,763.4 619.9,763.1 629.6,762.4 639.3,761.5 649.0,759.9 658.8,758.3 668.5,755.2 678.2,750.4 687.9,742.5 697.6,729.8 707.4,717.5 717.1,714.0 726.8,710.8 736.5,699.8 746.2,698.5 756.0,696.0 765.7,708.0 775.4,710.2 785.1,712.4 794.8,720.0 804.6,721.0 814.3,727.9 824.0,738.1 833.7,745.0 843.4,750.4 853.2,753.6 862.9,755.8 872.6,757.7 882.3,759.0 892.0,759.9 901.8,761.5 911.5,762.4 921.2,763.1 930.9,763.4 940.6,763.7 950.4,764.0 960.1,764.3 969.8,764.6"/>
<polyline class="ln" points="610.2,764.6 619.9,763.7 629.6,763.1 639.3,761.5 649.0,759.9 658.8,756.7 668.5,750.4 678.2,742.5 687.9,739.3 697.6,733.0 707.4,706.4 717.1,686.2 726.8,672.5 736.5,655.5 746.2,652.3 756.0,647.5 765.7,646.0 775.4,647.5 785.1,667.8 794.8,681.1 804.6,698.5 814.3,716.5 824.0,733.0 833.7,744.1 843.4,752.0 853.2,756.7 862.9,759.0 872.6,760.5 882.3,761.5 892.0,762.4 901.8,763.1 911.5,763.7 921.2,764.0 930.9,764.3 940.6,764.6"/>
<polyline class="ln" points="610.2,764.6 619.9,764.0 629.6,763.1 639.3,761.5 649.0,759.9 658.8,756.4 668.5,752.0 678.2,747.2 687.9,735.2 697.6,721.0 707.4,695.0 717.1,670.6 726.8,651.7 736.5,633.3 746.2,628.6 756.0,622.9 765.7,620.6 775.4,615.9 785.1,634.9 794.8,661.8 804.6,682.0 814.3,702.6 824.0,722.9 833.7,742.5 843.4,752.0 853.2,756.7 862.9,759.0 872.6,760.9 882.3,762.1 892.0,763.1 901.8,763.7 911.5,764.0 921.2,764.3 930.9,764.6 940.6,764.6"/>
<polyline class="ln" points="610.2,764.6 619.9,764.6 629.6,764.3 639.3,764.0 649.0,763.1 658.8,761.5 668.5,758.3 678.2,753.3 687.9,742.5 697.6,733.0 707.4,680.1 717.1,644.4 726.8,619.1 736.5,622.2 746.2,638.0 756.0,644.4 765.7,647.5 775.4,625.4 785.1,622.2 794.8,628.6 804.6,649.1 814.3,694.4 824.0,739.3 833.7,755.2 843.4,759.9 853.2,761.5 862.9,763.1 872.6,763.7 882.3,764.0 892.0,764.3 901.8,764.6 911.5,764.6 921.2,764.6 930.9,764.6 940.6,764.6"/>
<polyline class="ln" points="610.2,764.6 619.9,764.6 629.6,764.6 639.3,764.6 649.0,764.6 658.8,764.6 668.5,762.8 678.2,758.3 687.9,752.9 697.6,736.2 707.4,695.0 717.1,631.7 726.8,589.3 736.5,589.3 746.2,621.9 756.0,638.0 765.7,644.4 775.4,641.2 785.1,603.2 794.8,593.1 804.6,606.4 814.3,659.3 824.0,715.6 833.7,748.8 843.4,757.7 853.2,760.9 862.9,762.4 872.6,763.1 882.3,763.7 892.0,764.0 901.8,764.3 911.5,764.6 921.2,764.6 930.9,764.6 940.6,764.6"/>
<polyline class="ln" points="610.2,764.6 619.9,764.6 629.6,764.6 639.3,764.6 649.0,764.6 658.8,764.6 668.5,764.6 678.2,764.6 687.9,764.6 697.6,761.5 707.4,701.3 717.1,577.9 726.8,561.5 736.5,556.4 746.2,562.4 756.0,658.9 765.7,708.0 775.4,638.0 785.1,571.6 794.8,574.8 804.6,578.9 814.3,617.5 824.0,692.2 833.7,758.3 843.4,763.1 853.2,764.6 862.9,764.6 872.6,764.6 882.3,764.6 892.0,764.6 901.8,764.6 911.5,764.6 921.2,764.6 930.9,764.6 940.6,764.6"/>
<polyline class="ln" points="610.2,764.6 619.9,764.6 629.6,764.6 639.3,764.6 649.0,764.6 658.8,764.6 668.5,764.6 678.2,764.6 687.9,764.6 697.6,757.7 707.4,639.0 717.1,576.0 726.8,596.9 736.5,638.0 746.2,683.3 756.0,707.0 765.7,708.0 775.4,709.3 785.1,679.2 794.8,616.8 804.6,588.4 814.3,577.9 824.0,649.1 833.7,758.3 843.4,763.1 853.2,764.6 862.9,764.6 872.6,764.6 882.3,764.6 892.0,764.6 901.8,764.6 911.5,764.6 921.2,764.6 930.9,764.6 940.6,764.6"/>
<polyline class="ln" points="610.2,764.6 619.9,764.6 629.6,764.6 639.3,764.6 649.0,764.6 658.8,764.6 668.5,764.6 678.2,764.6 687.9,764.6 697.6,764.0 707.4,680.1 717.1,577.9 726.8,593.4 736.5,616.8 746.2,609.6 756.0,605.5 765.7,612.7 775.4,623.8 785.1,631.7 794.8,626.0 804.6,611.8 814.3,585.2 824.0,586.1 833.7,753.6 843.4,764.0 853.2,764.6 862.9,764.6 872.6,764.6 882.3,764.6 892.0,764.6 901.8,764.6 911.5,764.6 921.2,764.6 930.9,764.6 940.6,764.6"/>
<rect x="578.7" y="761.6" width="4.6" height="4.8" class="o"/>
<rect x="588.4" y="761.6" width="4.6" height="4.8" class="o"/>
<rect x="598.1" y="761.3" width="4.6" height="4.8" class="o"/>
<rect x="607.9" y="761.0" width="4.6" height="4.8" class="o"/>
<rect x="617.6" y="760.7" width="4.6" height="4.8" class="o"/>
<rect x="627.3" y="760.0" width="4.6" height="4.8" class="o"/>
<rect x="637.0" y="759.1" width="4.6" height="4.8" class="o"/>
<rect x="646.7" y="757.5" width="4.6" height="4.8" class="o"/>
<rect x="656.5" y="755.9" width="4.6" height="4.8" class="o"/>
<rect x="666.2" y="752.8" width="4.6" height="4.8" class="o"/>
<rect x="675.9" y="748.0" width="4.6" height="4.8" class="o"/>
<rect x="685.6" y="740.1" width="4.6" height="4.8" class="o"/>
<rect x="695.3" y="727.4" width="4.6" height="4.8" class="o"/>
<rect x="705.1" y="715.1" width="4.6" height="4.8" class="o"/>
<rect x="714.8" y="711.6" width="4.6" height="4.8" class="o"/>
<rect x="724.5" y="708.4" width="4.6" height="4.8" class="o"/>
<rect x="734.2" y="697.4" width="4.6" height="4.8" class="o"/>
<rect x="743.9" y="696.1" width="4.6" height="4.8" class="o"/>
<rect x="753.7" y="693.6" width="4.6" height="4.8" class="o"/>
<rect x="763.4" y="705.6" width="4.6" height="4.8" class="o"/>
<rect x="773.1" y="707.8" width="4.6" height="4.8" class="o"/>
<rect x="782.8" y="710.0" width="4.6" height="4.8" class="o"/>
<rect x="792.5" y="717.6" width="4.6" height="4.8" class="o"/>
<rect x="802.3" y="718.6" width="4.6" height="4.8" class="o"/>
<rect x="812.0" y="725.5" width="4.6" height="4.8" class="o"/>
<rect x="821.7" y="735.7" width="4.6" height="4.8" class="o"/>
<rect x="831.4" y="742.6" width="4.6" height="4.8" class="o"/>
<rect x="841.1" y="748.0" width="4.6" height="4.8" class="o"/>
<rect x="850.9" y="751.2" width="4.6" height="4.8" class="o"/>
<rect x="860.6" y="753.4" width="4.6" height="4.8" class="o"/>
<rect x="870.3" y="755.3" width="4.6" height="4.8" class="o"/>
<rect x="880.0" y="756.6" width="4.6" height="4.8" class="o"/>
<rect x="889.7" y="757.5" width="4.6" height="4.8" class="o"/>
<rect x="899.5" y="759.1" width="4.6" height="4.8" class="o"/>
<rect x="909.2" y="760.0" width="4.6" height="4.8" class="o"/>
<rect x="918.9" y="760.7" width="4.6" height="4.8" class="o"/>
<rect x="928.6" y="761.0" width="4.6" height="4.8" class="o"/>
<rect x="938.3" y="761.3" width="4.6" height="4.8" class="o"/>
<rect x="948.1" y="761.6" width="4.6" height="4.8" class="o"/>
<rect x="957.8" y="761.9" width="4.6" height="4.8" class="o"/>
<rect x="967.5" y="762.2" width="4.6" height="4.8" class="o"/>
<polygon points="610.2,761.2 611.0,763.8 613.8,763.9 611.6,765.5 612.4,768.1 610.2,766.5 607.9,768.1 608.7,765.5 606.5,763.9 609.3,763.8" class="f"/>
<polygon points="619.9,760.3 620.8,762.9 623.5,762.9 621.3,764.6 622.1,767.2 619.9,765.6 617.6,767.2 618.5,764.6 616.3,762.9 619.0,762.9" class="f"/>
<polygon points="629.6,759.7 630.5,762.3 633.2,762.3 631.0,763.9 631.8,766.5 629.6,765.0 627.4,766.5 628.2,763.9 626.0,762.3 628.7,762.3" class="f"/>
<polygon points="639.3,758.1 640.2,760.7 642.9,760.7 640.7,762.3 641.6,765.0 639.3,763.4 637.1,765.0 637.9,762.3 635.7,760.7 638.4,760.7" class="f"/>
<polygon points="649.0,756.5 649.9,759.1 652.7,759.1 650.5,760.8 651.3,763.4 649.0,761.8 646.8,763.4 647.6,760.8 645.4,759.1 648.2,759.1" class="f"/>
<polygon points="658.8,753.3 659.6,755.9 662.4,756.0 660.2,757.6 661.0,760.2 658.8,758.6 656.5,760.2 657.3,757.6 655.1,756.0 657.9,755.9" class="f"/>
<polygon points="668.5,747.0 669.4,749.6 672.1,749.6 669.9,751.3 670.7,753.9 668.5,752.3 666.2,753.9 667.1,751.3 664.9,749.6 667.6,749.6" class="f"/>
<polygon points="678.2,739.1 679.1,741.7 681.8,741.7 679.6,743.4 680.4,746.0 678.2,744.4 676.0,746.0 676.8,743.4 674.6,741.7 677.3,741.7" class="f"/>
<polygon points="687.9,735.9 688.8,738.5 691.5,738.6 689.3,740.2 690.2,742.8 687.9,741.2 685.7,742.8 686.5,740.2 684.3,738.6 687.0,738.5" class="f"/>
<polygon points="697.6,729.6 698.5,732.2 701.3,732.2 699.1,733.9 699.9,736.5 697.6,734.9 695.4,736.5 696.2,733.9 694.0,732.2 696.8,732.2" class="f"/>
<polygon points="707.4,703.0 708.2,705.6 711.0,705.6 708.8,707.3 709.6,709.9 707.4,708.3 705.1,709.9 705.9,707.3 703.7,705.6 706.5,705.6" class="f"/>
<polygon points="717.1,682.8 718.0,685.3 720.7,685.4 718.5,687.0 719.3,689.6 717.1,688.1 714.8,689.6 715.7,687.0 713.5,685.4 716.2,685.3" class="f"/>
<polygon points="726.8,669.1 727.7,671.7 730.4,671.8 728.2,673.4 729.0,676.0 726.8,674.4 724.6,676.0 725.4,673.4 723.2,671.8 725.9,671.7" class="f"/>
<polygon points="736.5,652.1 737.4,654.6 740.1,654.7 737.9,656.3 738.8,658.9 736.5,657.4 734.3,658.9 735.1,656.3 732.9,654.7 735.6,654.6" class="f"/>
<polygon points="746.2,648.9 747.1,651.5 749.9,651.5 747.7,653.2 748.5,655.8 746.2,654.2 744.0,655.8 744.8,653.2 742.6,651.5 745.4,651.5" class="f"/>
<polygon points="756.0,644.1 756.8,646.7 759.6,646.8 757.4,648.4 758.2,651.0 756.0,649.4 753.7,651.0 754.5,648.4 752.3,646.8 755.1,646.7" class="f"/>
<polygon points="765.7,642.6 766.6,645.1 769.3,645.2 767.1,646.8 767.9,649.4 765.7,647.9 763.4,649.4 764.3,646.8 762.1,645.2 764.8,645.1" class="f"/>
<polygon points="775.4,644.1 776.3,646.7 779.0,646.8 776.8,648.4 777.6,651.0 775.4,649.4 773.2,651.0 774.0,648.4 771.8,646.8 774.5,646.7" class="f"/>
<polygon points="785.1,664.4 786.0,667.0 788.7,667.0 786.5,668.7 787.4,671.3 785.1,669.7 782.9,671.3 783.7,668.7 781.5,667.0 784.2,667.0" class="f"/>
<polygon points="794.8,677.7 795.7,680.3 798.5,680.3 796.3,682.0 797.1,684.6 794.8,683.0 792.6,684.6 793.4,682.0 791.2,680.3 794.0,680.3" class="f"/>
<polygon points="804.6,695.1 805.4,697.7 808.2,697.7 806.0,699.4 806.8,702.0 804.6,700.4 802.3,702.0 803.1,699.4 800.9,697.7 803.7,697.7" class="f"/>
<polygon points="814.3,713.1 815.2,715.7 817.9,715.8 815.7,717.4 816.5,720.0 814.3,718.4 812.0,720.0 812.9,717.4 810.7,715.8 813.4,715.7" class="f"/>
<polygon points="824.0,729.6 824.9,732.2 827.6,732.2 825.4,733.9 826.2,736.5 824.0,734.9 821.8,736.5 822.6,733.9 820.4,732.2 823.1,732.2" class="f"/>
<polygon points="833.7,740.7 834.6,743.3 837.3,743.3 835.1,744.9 836.0,747.6 833.7,746.0 831.5,747.6 832.3,744.9 830.1,743.3 832.8,743.3" class="f"/>
<polygon points="843.4,748.6 844.3,751.2 847.1,751.2 844.9,752.9 845.7,755.5 843.4,753.9 841.2,755.5 842.0,752.9 839.8,751.2 842.6,751.2" class="f"/>
<polygon points="853.2,753.3 854.0,755.9 856.8,756.0 854.6,757.6 855.4,760.2 853.2,758.6 850.9,760.2 851.7,757.6 849.5,756.0 852.3,755.9" class="f"/>
<polygon points="862.9,755.6 863.8,758.1 866.5,758.2 864.3,759.8 865.1,762.4 862.9,760.9 860.6,762.4 861.5,759.8 859.3,758.2 862.0,758.1" class="f"/>
<polygon points="872.6,757.1 873.5,759.7 876.2,759.8 874.0,761.4 874.8,764.0 872.6,762.4 870.4,764.0 871.2,761.4 869.0,759.8 871.7,759.7" class="f"/>
<polygon points="882.3,758.1 883.2,760.7 885.9,760.7 883.7,762.3 884.6,765.0 882.3,763.4 880.1,765.0 880.9,762.3 878.7,760.7 881.4,760.7" class="f"/>
<polygon points="892.0,759.0 892.9,761.6 895.7,761.7 893.5,763.3 894.3,765.9 892.0,764.3 889.8,765.9 890.6,763.3 888.4,761.7 891.2,761.6" class="f"/>
<polygon points="901.8,759.7 902.6,762.3 905.4,762.3 903.2,763.9 904.0,766.5 901.8,765.0 899.5,766.5 900.3,763.9 898.1,762.3 900.9,762.3" class="f"/>
<polygon points="911.5,760.3 912.4,762.9 915.1,762.9 912.9,764.6 913.7,767.2 911.5,765.6 909.2,767.2 910.1,764.6 907.9,762.9 910.6,762.9" class="f"/>
<polygon points="921.2,760.6 922.1,763.2 924.8,763.2 922.6,764.9 923.4,767.5 921.2,765.9 919.0,767.5 919.8,764.9 917.6,763.2 920.3,763.2" class="f"/>
<polygon points="930.9,760.9 931.8,763.5 934.5,763.6 932.3,765.2 933.2,767.8 930.9,766.2 928.7,767.8 929.5,765.2 927.3,763.6 930.0,763.5" class="f"/>
<polygon points="940.6,761.2 941.5,763.8 944.3,763.9 942.1,765.5 942.9,768.1 940.6,766.5 938.4,768.1 939.2,765.5 937.0,763.9 939.8,763.8" class="f"/>
<polygon points="610.2,761.2 613.5,767.4 606.9,767.4" class="o"/>
<polygon points="619.9,760.6 623.2,766.8 616.6,766.8" class="o"/>
<polygon points="629.6,759.7 632.9,765.9 626.3,765.9" class="o"/>
<polygon points="639.3,758.1 642.6,764.3 636.0,764.3" class="o"/>
<polygon points="649.0,756.5 652.3,762.7 645.7,762.7" class="o"/>
<polygon points="658.8,753.0 662.1,759.2 655.5,759.2" class="o"/>
<polygon points="668.5,748.6 671.8,754.8 665.2,754.8" class="o"/>
<polygon points="678.2,743.8 681.5,750.0 674.9,750.0" class="o"/>
<polygon points="687.9,731.8 691.2,738.0 684.6,738.0" class="o"/>
<polygon points="697.6,717.6 700.9,723.8 694.3,723.8" class="o"/>
<polygon points="707.4,691.6 710.7,697.8 704.1,697.8" class="o"/>
<polygon points="717.1,667.2 720.4,673.4 713.8,673.4" class="o"/>
<polygon points="726.8,648.3 730.1,654.5 723.5,654.5" class="o"/>
<polygon points="736.5,629.9 739.8,636.1 733.2,636.1" class="o"/>
<polygon points="746.2,625.2 749.5,631.4 742.9,631.4" class="o"/>
<polygon points="756.0,619.5 759.3,625.7 752.7,625.7" class="o"/>
<polygon points="765.7,617.2 769.0,623.4 762.4,623.4" class="o"/>
<polygon points="775.4,612.5 778.7,618.7 772.1,618.7" class="o"/>
<polygon points="785.1,631.5 788.4,637.7 781.8,637.7" class="o"/>
<polygon points="794.8,658.4 798.1,664.6 791.5,664.6" class="o"/>
<polygon points="804.6,678.6 807.9,684.8 801.3,684.8" class="o"/>
<polygon points="814.3,699.2 817.6,705.4 811.0,705.4" class="o"/>
<polygon points="824.0,719.5 827.3,725.7 820.7,725.7" class="o"/>
<polygon points="833.7,739.1 837.0,745.3 830.4,745.3" class="o"/>
<polygon points="843.4,748.6 846.7,754.8 840.1,754.8" class="o"/>
<polygon points="853.2,753.3 856.5,759.5 849.9,759.5" class="o"/>
<polygon points="862.9,755.6 866.2,761.8 859.6,761.8" class="o"/>
<polygon points="872.6,757.5 875.9,763.7 869.3,763.7" class="o"/>
<polygon points="882.3,758.7 885.6,764.9 879.0,764.9" class="o"/>
<polygon points="892.0,759.7 895.3,765.9 888.7,765.9" class="o"/>
<polygon points="901.8,760.3 905.1,766.5 898.5,766.5" class="o"/>
<polygon points="911.5,760.6 914.8,766.8 908.2,766.8" class="o"/>
<polygon points="921.2,760.9 924.5,767.1 917.9,767.1" class="o"/>
<polygon points="930.9,761.2 934.2,767.4 927.6,767.4" class="o"/>
<polygon points="940.6,761.2 943.9,767.4 937.3,767.4" class="o"/>
<polygon points="606.8,761.9 613.6,761.9 610.2,768.2" class="f"/>
<polygon points="616.5,761.9 623.3,761.9 619.9,768.2" class="f"/>
<polygon points="626.2,761.5 633.0,761.5 629.6,767.9" class="f"/>
<polygon points="635.9,761.2 642.7,761.2 639.3,767.6" class="f"/>
<polygon points="645.6,760.3 652.4,760.3 649.0,766.7" class="f"/>
<polygon points="655.4,758.7 662.2,758.7 658.8,765.1" class="f"/>
<polygon points="665.1,755.5 671.9,755.5 668.5,761.9" class="f"/>
<polygon points="674.8,750.5 681.6,750.5 678.2,756.9" class="f"/>
<polygon points="684.5,739.7 691.3,739.7 687.9,746.1" class="f"/>
<polygon points="694.2,730.2 701.0,730.2 697.6,736.6" class="f"/>
<polygon points="704.0,677.3 710.8,677.3 707.4,683.7" class="f"/>
<polygon points="713.7,641.6 720.5,641.6 717.1,648.0" class="f"/>
<polygon points="723.4,616.3 730.2,616.3 726.8,622.7" class="f"/>
<polygon points="733.1,619.4 739.9,619.4 736.5,625.8" class="f"/>
<polygon points="742.8,635.2 749.6,635.2 746.2,641.6" class="f"/>
<polygon points="752.6,641.6 759.4,641.6 756.0,648.0" class="f"/>
<polygon points="762.3,644.7 769.1,644.7 765.7,651.1" class="f"/>
<polygon points="772.0,622.6 778.8,622.6 775.4,629.0" class="f"/>
<polygon points="781.7,619.4 788.5,619.4 785.1,625.8" class="f"/>
<polygon points="791.4,625.8 798.2,625.8 794.8,632.2" class="f"/>
<polygon points="801.2,646.3 808.0,646.3 804.6,652.7" class="f"/>
<polygon points="810.9,691.6 817.7,691.6 814.3,698.0" class="f"/>
<polygon points="820.6,736.5 827.4,736.5 824.0,742.9" class="f"/>
<polygon points="830.3,752.4 837.1,752.4 833.7,758.8" class="f"/>
<polygon points="840.0,757.1 846.8,757.1 843.4,763.5" class="f"/>
<polygon points="849.8,758.7 856.6,758.7 853.2,765.1" class="f"/>
<polygon points="859.5,760.3 866.3,760.3 862.9,766.7" class="f"/>
<polygon points="869.2,760.9 876.0,760.9 872.6,767.3" class="f"/>
<polygon points="878.9,761.2 885.7,761.2 882.3,767.6" class="f"/>
<polygon points="888.6,761.5 895.4,761.5 892.0,767.9" class="f"/>
<polygon points="898.4,761.9 905.2,761.9 901.8,768.2" class="f"/>
<polygon points="908.1,761.9 914.9,761.9 911.5,768.2" class="f"/>
<polygon points="917.8,761.9 924.6,761.9 921.2,768.2" class="f"/>
<polygon points="927.5,761.9 934.3,761.9 930.9,768.2" class="f"/>
<polygon points="937.2,761.9 944.0,761.9 940.6,768.2" class="f"/>
<polygon points="610.2,760.8 613.6,764.6 610.2,768.5 606.8,764.6" class="o"/>
<polygon points="619.9,760.8 623.3,764.6 619.9,768.5 616.5,764.6" class="o"/>
<polygon points="629.6,760.8 633.0,764.6 629.6,768.5 626.2,764.6" class="o"/>
<polygon points="639.3,760.8 642.7,764.6 639.3,768.5 635.9,764.6" class="o"/>
<polygon points="649.0,760.8 652.4,764.6 649.0,768.5 645.6,764.6" class="o"/>
<polygon points="658.8,760.8 662.2,764.6 658.8,768.5 655.4,764.6" class="o"/>
<polygon points="668.5,758.9 671.9,762.8 668.5,766.7 665.1,762.8" class="o"/>
<polygon points="678.2,754.4 681.6,758.3 678.2,762.2 674.8,758.3" class="o"/>
<polygon points="687.9,749.0 691.3,752.9 687.9,756.8 684.5,752.9" class="o"/>
<polygon points="697.6,732.3 701.0,736.2 697.6,740.1 694.2,736.2" class="o"/>
<polygon points="707.4,691.1 710.8,695.0 707.4,698.9 704.0,695.0" class="o"/>
<polygon points="717.1,627.8 720.5,631.7 717.1,635.6 713.7,631.7" class="o"/>
<polygon points="726.8,585.4 730.2,589.3 726.8,593.2 723.4,589.3" class="o"/>
<polygon points="736.5,585.4 739.9,589.3 736.5,593.2 733.1,589.3" class="o"/>
<polygon points="746.2,618.0 749.6,621.9 746.2,625.8 742.8,621.9" class="o"/>
<polygon points="756.0,634.1 759.4,638.0 756.0,641.9 752.6,638.0" class="o"/>
<polygon points="765.7,640.5 769.1,644.4 765.7,648.3 762.3,644.4" class="o"/>
<polygon points="775.4,637.3 778.8,641.2 775.4,645.1 772.0,641.2" class="o"/>
<polygon points="785.1,599.3 788.5,603.2 785.1,607.1 781.7,603.2" class="o"/>
<polygon points="794.8,589.2 798.2,593.1 794.8,597.0 791.4,593.1" class="o"/>
<polygon points="804.6,602.5 808.0,606.4 804.6,610.3 801.2,606.4" class="o"/>
<polygon points="814.3,655.4 817.7,659.3 814.3,663.2 810.9,659.3" class="o"/>
<polygon points="824.0,711.7 827.4,715.6 824.0,719.5 820.6,715.6" class="o"/>
<polygon points="833.7,744.9 837.1,748.8 833.7,752.7 830.3,748.8" class="o"/>
<polygon points="843.4,753.8 846.8,757.7 843.4,761.6 840.0,757.7" class="o"/>
<polygon points="853.2,757.0 856.6,760.9 853.2,764.8 849.8,760.9" class="o"/>
<polygon points="862.9,758.5 866.3,762.4 862.9,766.3 859.5,762.4" class="o"/>
<polygon points="872.6,759.2 876.0,763.1 872.6,767.0 869.2,763.1" class="o"/>
<polygon points="882.3,759.8 885.7,763.7 882.3,767.6 878.9,763.7" class="o"/>
<polygon points="892.0,760.1 895.4,764.0 892.0,767.9 888.6,764.0" class="o"/>
<polygon points="901.8,760.4 905.2,764.3 901.8,768.2 898.4,764.3" class="o"/>
<polygon points="911.5,760.8 914.9,764.6 911.5,768.5 908.1,764.6" class="o"/>
<polygon points="921.2,760.8 924.6,764.6 921.2,768.5 917.8,764.6" class="o"/>
<polygon points="930.9,760.8 934.3,764.6 930.9,768.5 927.5,764.6" class="o"/>
<polygon points="940.6,760.8 944.0,764.6 940.6,768.5 937.2,764.6" class="o"/>
<polygon points="607.0,764.6 612.8,760.9 612.8,768.4" class="f"/>
<polygon points="616.7,764.6 622.5,760.9 622.5,768.4" class="f"/>
<polygon points="626.4,764.6 632.2,760.9 632.2,768.4" class="f"/>
<polygon points="636.1,764.6 641.9,760.9 641.9,768.4" class="f"/>
<polygon points="645.8,764.6 651.6,760.9 651.6,768.4" class="f"/>
<polygon points="655.6,764.6 661.4,760.9 661.4,768.4" class="f"/>
<polygon points="665.3,764.6 671.1,760.9 671.1,768.4" class="f"/>
<polygon points="675.0,764.6 680.8,760.9 680.8,768.4" class="f"/>
<polygon points="684.7,764.6 690.5,760.9 690.5,768.4" class="f"/>
<polygon points="694.4,761.5 700.2,757.8 700.2,765.2" class="f"/>
<polygon points="704.2,701.3 710.0,697.6 710.0,705.0" class="f"/>
<polygon points="713.9,577.9 719.7,574.2 719.7,581.6" class="f"/>
<polygon points="723.6,561.5 729.4,557.8 729.4,565.2" class="f"/>
<polygon points="733.3,556.4 739.1,552.7 739.1,560.1" class="f"/>
<polygon points="743.0,562.4 748.8,558.7 748.8,566.1" class="f"/>
<polygon points="752.8,658.9 758.6,655.2 758.6,662.6" class="f"/>
<polygon points="762.5,708.0 768.3,704.3 768.3,711.7" class="f"/>
<polygon points="772.2,638.0 778.0,634.3 778.0,641.8" class="f"/>
<polygon points="781.9,571.6 787.7,567.9 787.7,575.3" class="f"/>
<polygon points="791.6,574.8 797.4,571.0 797.4,578.5" class="f"/>
<polygon points="801.4,578.9 807.2,575.2 807.2,582.6" class="f"/>
<polygon points="811.1,617.5 816.9,613.8 816.9,621.2" class="f"/>
<polygon points="820.8,692.2 826.6,688.5 826.6,695.9" class="f"/>
<polygon points="830.5,758.3 836.3,754.6 836.3,762.0" class="f"/>
<polygon points="840.2,763.1 846.0,759.4 846.0,766.8" class="f"/>
<polygon points="850.0,764.6 855.8,760.9 855.8,768.4" class="f"/>
<polygon points="859.7,764.6 865.5,760.9 865.5,768.4" class="f"/>
<polygon points="869.4,764.6 875.2,760.9 875.2,768.4" class="f"/>
<polygon points="879.1,764.6 884.9,760.9 884.9,768.4" class="f"/>
<polygon points="888.8,764.6 894.6,760.9 894.6,768.4" class="f"/>
<polygon points="898.6,764.6 904.4,760.9 904.4,768.4" class="f"/>
<polygon points="908.3,764.6 914.1,760.9 914.1,768.4" class="f"/>
<polygon points="918.0,764.6 923.8,760.9 923.8,768.4" class="f"/>
<polygon points="927.7,764.6 933.5,760.9 933.5,768.4" class="f"/>
<polygon points="937.4,764.6 943.2,760.9 943.2,768.4" class="f"/>
<polygon points="613.4,764.6 607.6,760.9 607.6,768.4" class="o"/>
<polygon points="623.1,764.6 617.3,760.9 617.3,768.4" class="o"/>
<polygon points="632.8,764.6 627.0,760.9 627.0,768.4" class="o"/>
<polygon points="642.5,764.6 636.7,760.9 636.7,768.4" class="o"/>
<polygon points="652.2,764.6 646.4,760.9 646.4,768.4" class="o"/>
<polygon points="662.0,764.6 656.2,760.9 656.2,768.4" class="o"/>
<polygon points="671.7,764.6 665.9,760.9 665.9,768.4" class="o"/>
<polygon points="681.4,764.6 675.6,760.9 675.6,768.4" class="o"/>
<polygon points="691.1,764.6 685.3,760.9 685.3,768.4" class="o"/>
<polygon points="700.8,757.7 695.0,754.0 695.0,761.4" class="o"/>
<polygon points="710.6,639.0 704.8,635.3 704.8,642.7" class="o"/>
<polygon points="720.3,576.0 714.5,572.3 714.5,579.7" class="o"/>
<polygon points="730.0,596.9 724.2,593.2 724.2,600.6" class="o"/>
<polygon points="739.7,638.0 733.9,634.3 733.9,641.8" class="o"/>
<polygon points="749.4,683.3 743.6,679.6 743.6,687.0" class="o"/>
<polygon points="759.2,707.0 753.4,703.3 753.4,710.7" class="o"/>
<polygon points="768.9,708.0 763.1,704.3 763.1,711.7" class="o"/>
<polygon points="778.6,709.3 772.8,705.6 772.8,713.0" class="o"/>
<polygon points="788.3,679.2 782.5,675.5 782.5,682.9" class="o"/>
<polygon points="798.0,616.8 792.2,613.1 792.2,620.5" class="o"/>
<polygon points="807.8,588.4 802.0,584.7 802.0,592.1" class="o"/>
<polygon points="817.5,577.9 811.7,574.2 811.7,581.6" class="o"/>
<polygon points="827.2,649.1 821.4,645.4 821.4,652.8" class="o"/>
<polygon points="836.9,758.3 831.1,754.6 831.1,762.0" class="o"/>
<polygon points="846.6,763.1 840.8,759.4 840.8,766.8" class="o"/>
<polygon points="856.4,764.6 850.6,760.9 850.6,768.4" class="o"/>
<polygon points="866.1,764.6 860.3,760.9 860.3,768.4" class="o"/>
<polygon points="875.8,764.6 870.0,760.9 870.0,768.4" class="o"/>
<polygon points="885.5,764.6 879.7,760.9 879.7,768.4" class="o"/>
<polygon points="895.2,764.6 889.4,760.9 889.4,768.4" class="o"/>
<polygon points="905.0,764.6 899.2,760.9 899.2,768.4" class="o"/>
<polygon points="914.7,764.6 908.9,760.9 908.9,768.4" class="o"/>
<polygon points="924.4,764.6 918.6,760.9 918.6,768.4" class="o"/>
<polygon points="934.1,764.6 928.3,760.9 928.3,768.4" class="o"/>
<polygon points="943.8,764.6 938.0,760.9 938.0,768.4" class="o"/>
<polygon points="610.2,761.4 613.4,764.6 610.2,767.9 607.0,764.6" class="f"/>
<polygon points="619.9,761.4 623.1,764.6 619.9,767.9 616.7,764.6" class="f"/>
<polygon points="629.6,761.4 632.8,764.6 629.6,767.9 626.4,764.6" class="f"/>
<polygon points="639.3,761.4 642.5,764.6 639.3,767.9 636.1,764.6" class="f"/>
<polygon points="649.0,761.4 652.2,764.6 649.0,767.9 645.8,764.6" class="f"/>
<polygon points="658.8,761.4 662.0,764.6 658.8,767.9 655.6,764.6" class="f"/>
<polygon points="668.5,761.4 671.7,764.6 668.5,767.9 665.3,764.6" class="f"/>
<polygon points="678.2,761.4 681.4,764.6 678.2,767.9 675.0,764.6" class="f"/>
<polygon points="687.9,761.4 691.1,764.6 687.9,767.9 684.7,764.6" class="f"/>
<polygon points="697.6,760.8 700.8,764.0 697.6,767.2 694.4,764.0" class="f"/>
<polygon points="707.4,676.9 710.6,680.1 707.4,683.3 704.2,680.1" class="f"/>
<polygon points="717.1,574.7 720.3,577.9 717.1,581.1 713.9,577.9" class="f"/>
<polygon points="726.8,590.2 730.0,593.4 726.8,596.6 723.6,593.4" class="f"/>
<polygon points="736.5,613.6 739.7,616.8 736.5,620.0 733.3,616.8" class="f"/>
<polygon points="746.2,606.4 749.4,609.6 746.2,612.8 743.0,609.6" class="f"/>
<polygon points="756.0,602.3 759.2,605.5 756.0,608.7 752.8,605.5" class="f"/>
<polygon points="765.7,609.5 768.9,612.7 765.7,615.9 762.5,612.7" class="f"/>
<polygon points="775.4,620.6 778.6,623.8 775.4,627.0 772.2,623.8" class="f"/>
<polygon points="785.1,628.5 788.3,631.7 785.1,634.9 781.9,631.7" class="f"/>
<polygon points="794.8,622.8 798.0,626.0 794.8,629.2 791.6,626.0" class="f"/>
<polygon points="804.6,608.6 807.8,611.8 804.6,615.0 801.4,611.8" class="f"/>
<polygon points="814.3,582.0 817.5,585.2 814.3,588.4 811.1,585.2" class="f"/>
<polygon points="824.0,582.9 827.2,586.1 824.0,589.3 820.8,586.1" class="f"/>
<polygon points="833.7,750.4 836.9,753.6 833.7,756.8 830.5,753.6" class="f"/>
<polygon points="843.4,760.8 846.6,764.0 843.4,767.2 840.2,764.0" class="f"/>
<polygon points="853.2,761.4 856.4,764.6 853.2,767.9 850.0,764.6" class="f"/>
<polygon points="862.9,761.4 866.1,764.6 862.9,767.9 859.7,764.6" class="f"/>
<polygon points="872.6,761.4 875.8,764.6 872.6,767.9 869.4,764.6" class="f"/>
<polygon points="882.3,761.4 885.5,764.6 882.3,767.9 879.1,764.6" class="f"/>
<polygon points="892.0,761.4 895.2,764.6 892.0,767.9 888.8,764.6" class="f"/>
<polygon points="901.8,761.4 905.0,764.6 901.8,767.9 898.6,764.6" class="f"/>
<polygon points="911.5,761.4 914.7,764.6 911.5,767.9 908.3,764.6" class="f"/>
<polygon points="921.2,761.4 924.4,764.6 921.2,767.9 918.0,764.6" class="f"/>
<polygon points="930.9,761.4 934.1,764.6 930.9,767.9 927.7,764.6" class="f"/>
<polygon points="940.6,761.4 943.8,764.6 940.6,767.9 937.4,764.6" class="f"/>
</g>
</svg>
</body></html>
